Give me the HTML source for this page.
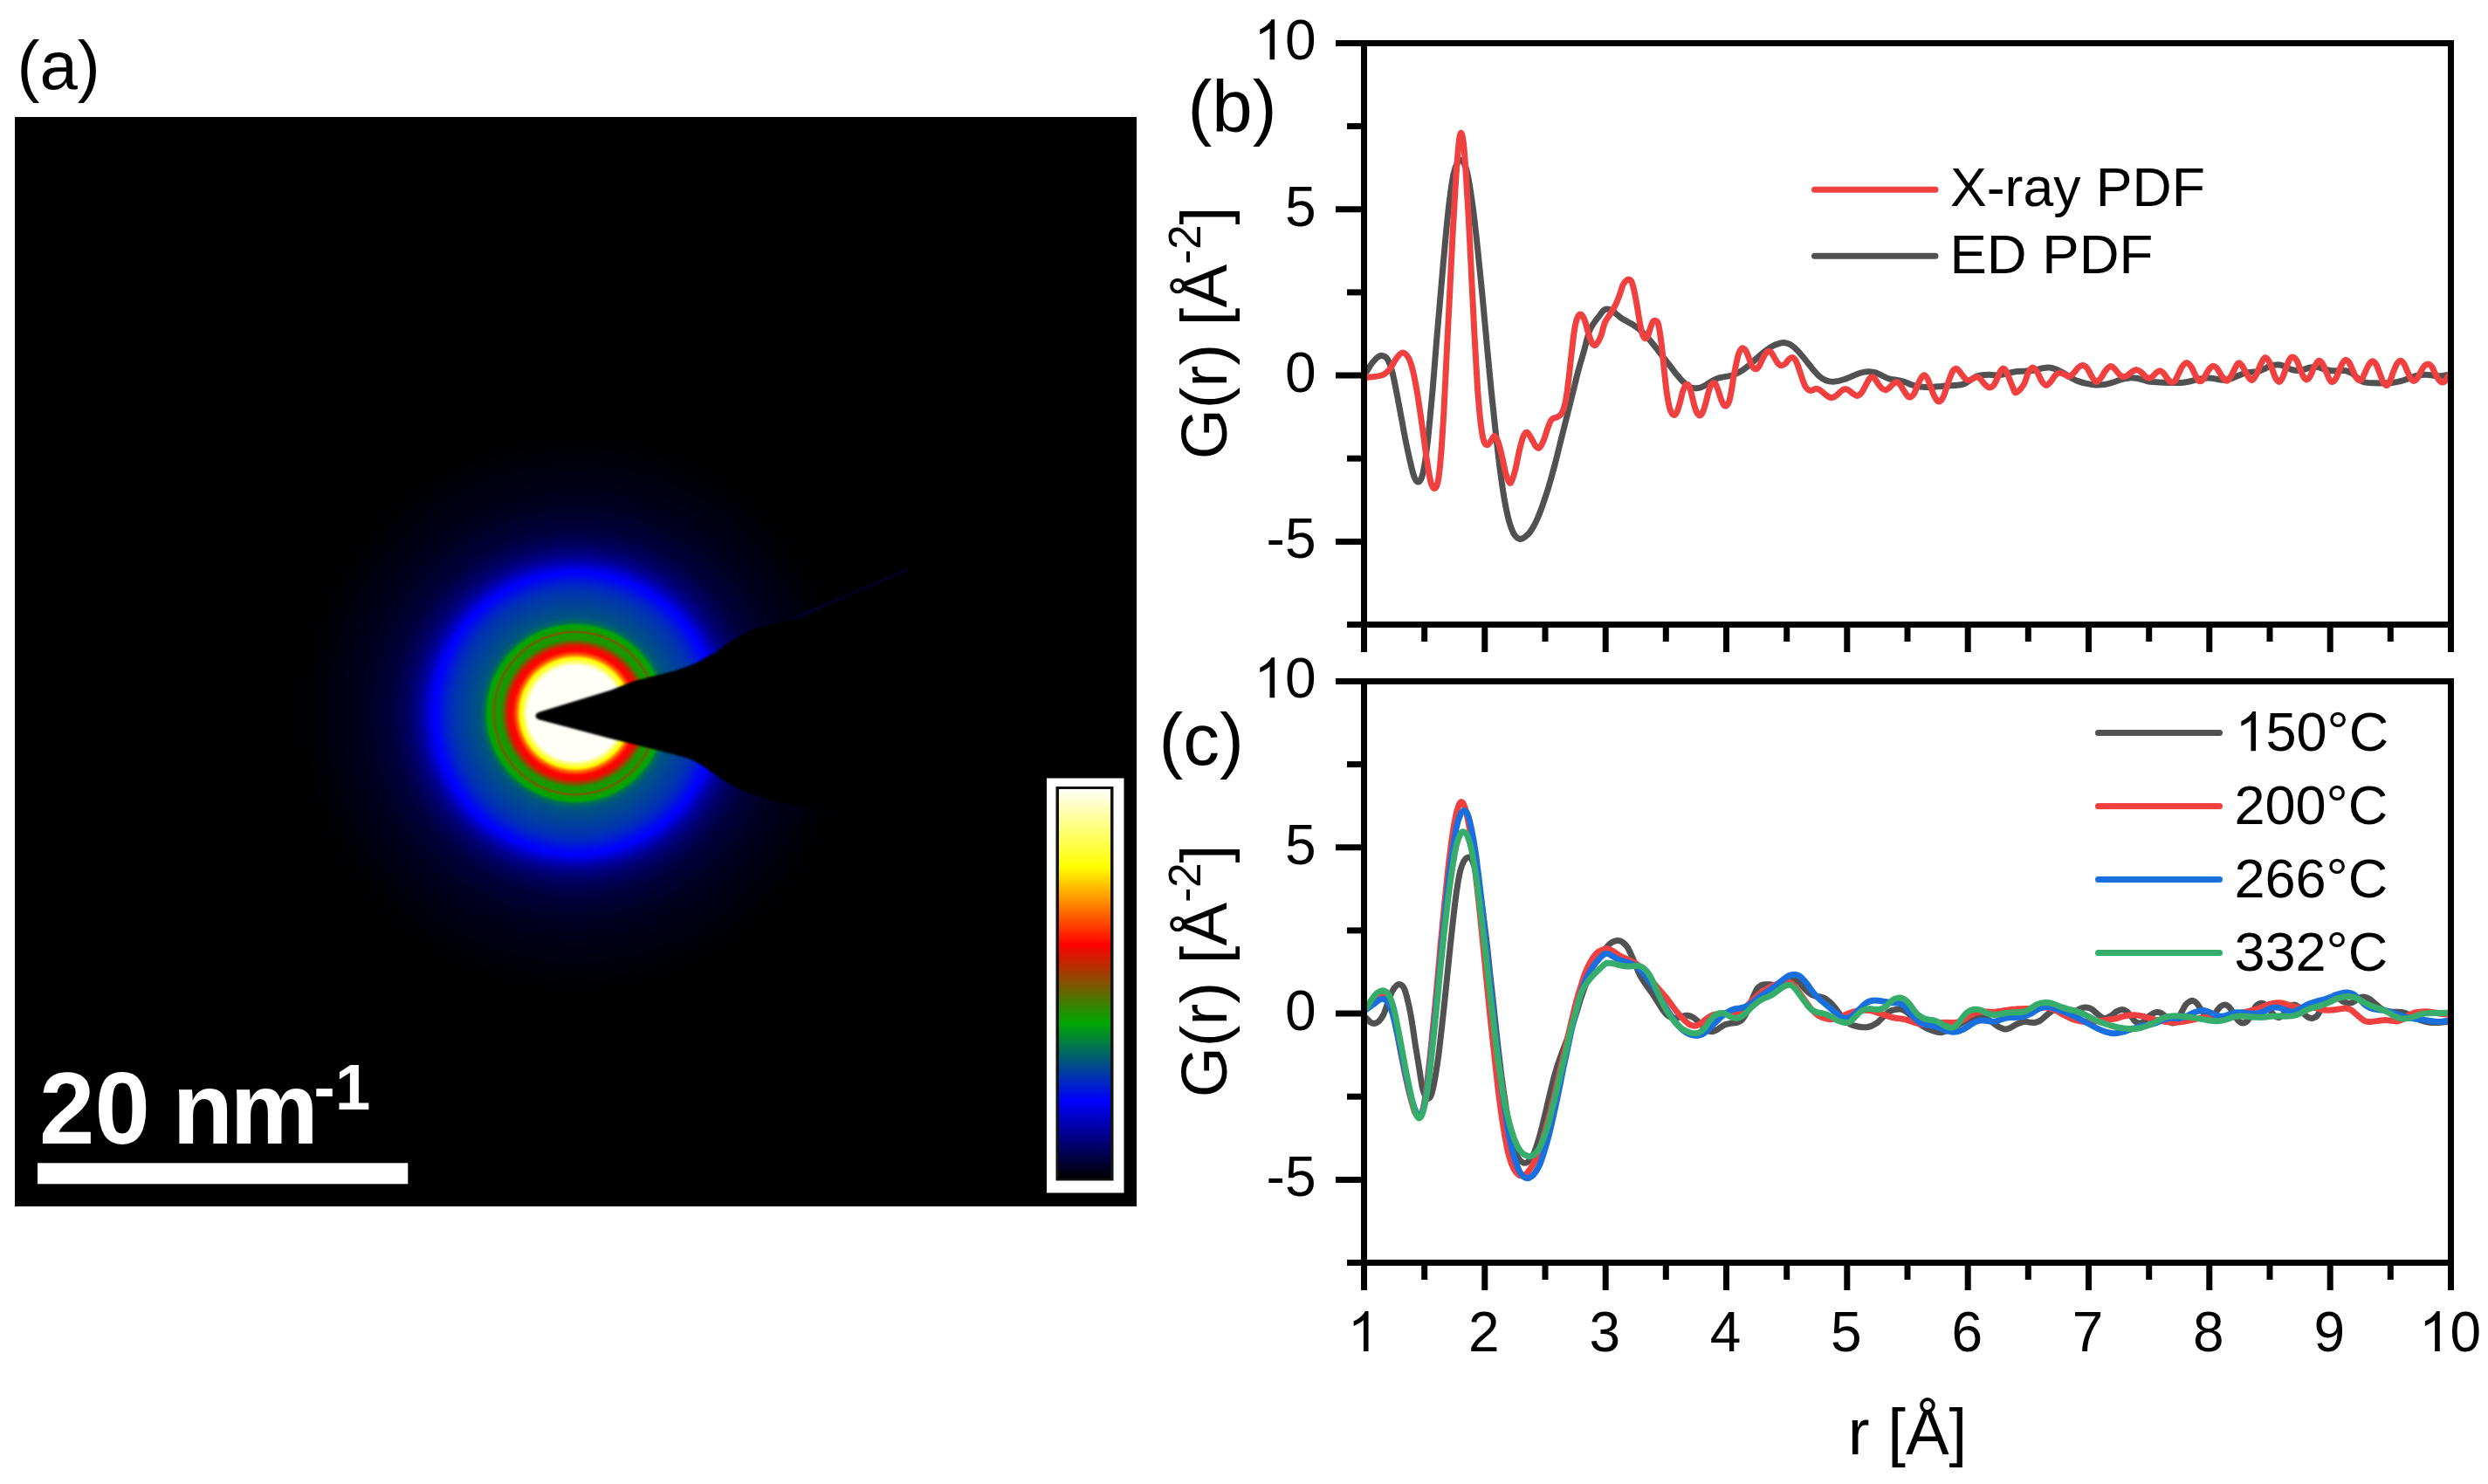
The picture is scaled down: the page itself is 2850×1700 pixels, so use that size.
<!DOCTYPE html>
<html><head><meta charset="utf-8"><title>figure</title>
<style>
html,body{margin:0;padding:0;background:#fff;}
body{width:2850px;height:1700px;overflow:hidden;}
svg{display:block;font-family:"Liberation Sans",sans-serif;}
text{fill:#000;}
</style></head><body>
<svg width="2850" height="1700" viewBox="0 0 2850 1700">
<defs>
<radialGradient id="dp" gradientUnits="userSpaceOnUse" cx="659" cy="817" r="320">
<stop offset="0.0000" stop-color="#fffff8"/>
<stop offset="0.0063" stop-color="#fffff8"/>
<stop offset="0.0125" stop-color="#fffff8"/>
<stop offset="0.0187" stop-color="#fffff8"/>
<stop offset="0.0250" stop-color="#fffff8"/>
<stop offset="0.0312" stop-color="#fffff8"/>
<stop offset="0.0375" stop-color="#fffff8"/>
<stop offset="0.0437" stop-color="#fffff8"/>
<stop offset="0.0500" stop-color="#fffff8"/>
<stop offset="0.0563" stop-color="#fffff8"/>
<stop offset="0.0625" stop-color="#fffff8"/>
<stop offset="0.0688" stop-color="#fffff8"/>
<stop offset="0.0750" stop-color="#fffff8"/>
<stop offset="0.0813" stop-color="#fffff8"/>
<stop offset="0.0875" stop-color="#fffff8"/>
<stop offset="0.0938" stop-color="#fffff8"/>
<stop offset="0.1000" stop-color="#fffff8"/>
<stop offset="0.1062" stop-color="#fffff8"/>
<stop offset="0.1125" stop-color="#fffff8"/>
<stop offset="0.1187" stop-color="#fffff8"/>
<stop offset="0.1250" stop-color="#fffff8"/>
<stop offset="0.1313" stop-color="#fffff8"/>
<stop offset="0.1375" stop-color="#fffff8"/>
<stop offset="0.1437" stop-color="#fffff8"/>
<stop offset="0.1500" stop-color="#fffff8"/>
<stop offset="0.1562" stop-color="#fffff8"/>
<stop offset="0.1625" stop-color="#fffff8"/>
<stop offset="0.1688" stop-color="#fffff8"/>
<stop offset="0.1750" stop-color="#ffffbc"/>
<stop offset="0.1812" stop-color="#ffff81"/>
<stop offset="0.1844" stop-color="#ffff63"/>
<stop offset="0.1875" stop-color="#ffff4a"/>
<stop offset="0.1938" stop-color="#ffff19"/>
<stop offset="0.1969" stop-color="#ffff00"/>
<stop offset="0.2000" stop-color="#ffd900"/>
<stop offset="0.2062" stop-color="#ff8c00"/>
<stop offset="0.2094" stop-color="#ff6600"/>
<stop offset="0.2125" stop-color="#ff5000"/>
<stop offset="0.2188" stop-color="#ff2300"/>
<stop offset="0.2219" stop-color="#ff0d00"/>
<stop offset="0.2250" stop-color="#ff0600"/>
<stop offset="0.2313" stop-color="#f90400"/>
<stop offset="0.2375" stop-color="#ec0d00"/>
<stop offset="0.2406" stop-color="#e51100"/>
<stop offset="0.2437" stop-color="#cc2200"/>
<stop offset="0.2500" stop-color="#994300"/>
<stop offset="0.2531" stop-color="#805400"/>
<stop offset="0.2562" stop-color="#666500"/>
<stop offset="0.2625" stop-color="#338600"/>
<stop offset="0.2656" stop-color="#199700"/>
<stop offset="0.2687" stop-color="#199700"/>
<stop offset="0.2750" stop-color="#199700"/>
<stop offset="0.2812" stop-color="#199700"/>
<stop offset="0.2844" stop-color="#199700"/>
<stop offset="0.2875" stop-color="#4c7600"/>
<stop offset="0.2906" stop-color="#805400"/>
<stop offset="0.2938" stop-color="#4c7600"/>
<stop offset="0.2969" stop-color="#199700"/>
<stop offset="0.3000" stop-color="#149b00"/>
<stop offset="0.3063" stop-color="#0aa100"/>
<stop offset="0.3125" stop-color="#00a800"/>
<stop offset="0.3187" stop-color="#008b2d"/>
<stop offset="0.3250" stop-color="#006d59"/>
<stop offset="0.3312" stop-color="#006566"/>
<stop offset="0.3375" stop-color="#005c73"/>
<stop offset="0.3438" stop-color="#005480"/>
<stop offset="0.3500" stop-color="#005283"/>
<stop offset="0.3563" stop-color="#005086"/>
<stop offset="0.3625" stop-color="#004d8a"/>
<stop offset="0.3688" stop-color="#004b8d"/>
<stop offset="0.3750" stop-color="#004990"/>
<stop offset="0.3812" stop-color="#004794"/>
<stop offset="0.3875" stop-color="#004497"/>
<stop offset="0.3906" stop-color="#004399"/>
<stop offset="0.3937" stop-color="#00429b"/>
<stop offset="0.4000" stop-color="#00409e"/>
<stop offset="0.4062" stop-color="#003ea1"/>
<stop offset="0.4125" stop-color="#003ba5"/>
<stop offset="0.4188" stop-color="#0039a8"/>
<stop offset="0.4250" stop-color="#0037ac"/>
<stop offset="0.4313" stop-color="#0035af"/>
<stop offset="0.4375" stop-color="#0032b3"/>
<stop offset="0.4437" stop-color="#002eb9"/>
<stop offset="0.4500" stop-color="#002abf"/>
<stop offset="0.4562" stop-color="#0026c6"/>
<stop offset="0.4625" stop-color="#0022cc"/>
<stop offset="0.4688" stop-color="#001dd2"/>
<stop offset="0.4750" stop-color="#0017db"/>
<stop offset="0.4813" stop-color="#0011e5"/>
<stop offset="0.4875" stop-color="#000bee"/>
<stop offset="0.4906" stop-color="#0008f2"/>
<stop offset="0.4938" stop-color="#0007f5"/>
<stop offset="0.5000" stop-color="#0003fa"/>
<stop offset="0.5062" stop-color="#0000ff"/>
<stop offset="0.5125" stop-color="#0000f1"/>
<stop offset="0.5188" stop-color="#0000e2"/>
<stop offset="0.5250" stop-color="#0000d4"/>
<stop offset="0.5312" stop-color="#0000c6"/>
<stop offset="0.5375" stop-color="#0000b9"/>
<stop offset="0.5437" stop-color="#0000ac"/>
<stop offset="0.5500" stop-color="#00009f"/>
<stop offset="0.5563" stop-color="#000093"/>
<stop offset="0.5625" stop-color="#00008b"/>
<stop offset="0.5687" stop-color="#000084"/>
<stop offset="0.5750" stop-color="#00007c"/>
<stop offset="0.5813" stop-color="#000075"/>
<stop offset="0.5875" stop-color="#00006d"/>
<stop offset="0.5938" stop-color="#000066"/>
<stop offset="0.6000" stop-color="#000062"/>
<stop offset="0.6062" stop-color="#00005e"/>
<stop offset="0.6125" stop-color="#000059"/>
<stop offset="0.6188" stop-color="#000055"/>
<stop offset="0.6250" stop-color="#000051"/>
<stop offset="0.6312" stop-color="#00004d"/>
<stop offset="0.6375" stop-color="#000049"/>
<stop offset="0.6438" stop-color="#000044"/>
<stop offset="0.6500" stop-color="#000040"/>
<stop offset="0.6562" stop-color="#00003c"/>
<stop offset="0.6625" stop-color="#00003a"/>
<stop offset="0.6687" stop-color="#000038"/>
<stop offset="0.6750" stop-color="#000037"/>
<stop offset="0.6813" stop-color="#000035"/>
<stop offset="0.6875" stop-color="#000033"/>
<stop offset="0.6937" stop-color="#000031"/>
<stop offset="0.7000" stop-color="#00002f"/>
<stop offset="0.7063" stop-color="#00002e"/>
<stop offset="0.7125" stop-color="#00002c"/>
<stop offset="0.7188" stop-color="#00002a"/>
<stop offset="0.7250" stop-color="#000028"/>
<stop offset="0.7312" stop-color="#000027"/>
<stop offset="0.7375" stop-color="#000025"/>
<stop offset="0.7438" stop-color="#000023"/>
<stop offset="0.7500" stop-color="#000021"/>
<stop offset="0.7562" stop-color="#000020"/>
<stop offset="0.7625" stop-color="#00001f"/>
<stop offset="0.7688" stop-color="#00001e"/>
<stop offset="0.7750" stop-color="#00001e"/>
<stop offset="0.7812" stop-color="#00001d"/>
<stop offset="0.7875" stop-color="#00001c"/>
<stop offset="0.7937" stop-color="#00001b"/>
<stop offset="0.8000" stop-color="#00001a"/>
<stop offset="0.8063" stop-color="#000019"/>
<stop offset="0.8125" stop-color="#000018"/>
<stop offset="0.8187" stop-color="#000017"/>
<stop offset="0.8250" stop-color="#000016"/>
<stop offset="0.8313" stop-color="#000016"/>
<stop offset="0.8375" stop-color="#000015"/>
<stop offset="0.8438" stop-color="#000014"/>
<stop offset="0.8500" stop-color="#000013"/>
<stop offset="0.8562" stop-color="#000012"/>
<stop offset="0.8625" stop-color="#000011"/>
<stop offset="0.8688" stop-color="#000010"/>
<stop offset="0.8750" stop-color="#00000f"/>
<stop offset="0.8812" stop-color="#00000f"/>
<stop offset="0.8875" stop-color="#00000e"/>
<stop offset="0.8938" stop-color="#00000d"/>
<stop offset="0.9000" stop-color="#00000c"/>
<stop offset="0.9062" stop-color="#00000b"/>
<stop offset="0.9125" stop-color="#00000b"/>
<stop offset="0.9187" stop-color="#00000a"/>
<stop offset="0.9250" stop-color="#000009"/>
<stop offset="0.9313" stop-color="#000008"/>
<stop offset="0.9375" stop-color="#000008"/>
<stop offset="0.9437" stop-color="#000007"/>
<stop offset="0.9500" stop-color="#000006"/>
<stop offset="0.9563" stop-color="#000005"/>
<stop offset="0.9625" stop-color="#000005"/>
<stop offset="0.9688" stop-color="#000004"/>
<stop offset="0.9750" stop-color="#000003"/>
<stop offset="0.9812" stop-color="#000002"/>
<stop offset="0.9875" stop-color="#000002"/>
<stop offset="0.9938" stop-color="#000001"/>
<stop offset="1.0000" stop-color="#000000"/>
</radialGradient>
<linearGradient id="cbar" x1="0" y1="0" x2="0" y2="1">
<stop offset="0" stop-color="#fffff8"/>
<stop offset="0.2" stop-color="#ffff00"/>
<stop offset="0.4" stop-color="#ff0000"/>
<stop offset="0.6" stop-color="#00a800"/>
<stop offset="0.8" stop-color="#0000ff"/>
<stop offset="1" stop-color="#000000"/>
</linearGradient>
<clipPath id="clipA"><rect x="17" y="134" width="1285" height="1248"/></clipPath>
<clipPath id="clipB"><rect x="1562.5" y="49.5" width="1245" height="666"/></clipPath>
<clipPath id="clipC"><rect x="1562.5" y="780.5" width="1245" height="666"/></clipPath>
<filter id="soft" x="-5%" y="-5%" width="110%" height="110%"><feGaussianBlur stdDeviation="1.2"/></filter>
</defs>

<text x="19.5" y="102" font-size="78">(a)</text>
<rect x="17" y="134" width="1285" height="1248" fill="#000"/>
<g clip-path="url(#clipA)">
<circle cx="659" cy="817" r="320" fill="url(#dp)"/>
<line x1="906" y1="710" x2="1040" y2="652" stroke="#000040" stroke-width="3" opacity="0.6"/>
<path filter="url(#soft)" d="M613.5 820 Q613.5 816.5 620 815 L700.0 790.4 L724.3 780.7 L748.5 774.6 L772.8 768.6 L797.0 760.0 L809.2 752.8 L821.3 746.7 L833.4 737.0 L845.5 729.8 L857.7 723.7 L869.8 718.8 L881.9 715.7 L894.0 712.8 L906.2 710.3 L1000.0 690.0 L1302.0 560.0 L1302.0 1010.0 L1000.0 935.0 L918.3 923.8 L894.0 919.0 L879.5 915.3 L865.0 910.5 L850.4 905.6 L838.3 899.6 L826.1 892.3 L814.0 883.8 L801.9 875.3 L789.8 869.2 L772.8 864.4 L748.5 858.3 L724.3 852.2 L700.0 846.2 L620 825 Q613.5 823.5 613.5 820Z" fill="#000"/>
</g>
<rect x="1199" y="891.5" width="88.5" height="475" fill="#fff"/>
<rect x="1209.5" y="901" width="66" height="451.5" fill="#111"/>
<rect x="1213" y="904" width="59" height="446" fill="url(#cbar)"/>
<rect x="43" y="1332.3" width="424.3" height="24" fill="#fff"/>
<text transform="translate(45 1310) scale(1 1.025)" font-size="114" font-weight="bold" style="fill:#fff" word-spacing="-6">20 <tspan letter-spacing="-3.5">nm</tspan><tspan font-size="72.5" dy="-38.5" dx="-2" letter-spacing="0.5">-1</tspan></text>
<text x="1360.5" y="150.5" font-size="83.5">(b)</text>
<g clip-path="url(#clipB)" fill="none" stroke-linejoin="round" stroke-linecap="round" stroke-width="7">
<path d="M1565.5 425.5C1566.6 423.8 1570.0 418.1 1572.3 415.2C1574.6 412.4 1577.2 409.6 1579.2 408.4C1581.2 407.1 1582.6 407.1 1584.4 407.7C1586.1 408.2 1587.8 408.8 1589.5 411.8C1591.2 414.8 1593.0 419.2 1594.7 425.5C1596.4 431.8 1598.1 441.0 1599.8 449.6C1601.5 458.2 1603.3 467.9 1605.0 477.1C1606.7 486.2 1608.4 496.0 1610.1 504.6C1611.9 513.2 1613.7 521.8 1615.3 528.6C1616.9 535.5 1618.3 541.9 1619.8 545.8C1621.2 549.7 1622.5 551.7 1623.9 552.0C1625.3 552.3 1626.9 551.4 1628.4 547.5C1629.8 543.6 1631.1 537.5 1632.5 528.6C1633.8 519.7 1635.2 508.0 1636.6 494.3C1638.0 480.5 1639.6 463.3 1641.1 446.2C1642.6 429.0 1644.1 408.4 1645.5 391.2C1647.0 374.0 1648.1 360.8 1649.7 343.1C1651.2 325.3 1653.1 303.0 1654.8 284.6C1656.5 266.3 1658.2 247.4 1660.0 233.1C1661.7 218.8 1663.4 206.7 1665.1 198.7C1666.8 190.7 1668.8 187.6 1670.3 185.0C1671.7 182.4 1672.5 182.7 1673.7 183.3C1675.0 183.8 1676.4 184.7 1677.8 188.4C1679.3 192.1 1680.7 197.0 1682.3 205.6C1683.9 214.2 1685.7 226.8 1687.5 240.0C1689.2 253.1 1690.9 268.6 1692.6 284.6C1694.3 300.7 1696.0 318.4 1697.8 336.2C1699.5 353.9 1701.2 372.8 1702.9 391.2C1704.6 409.5 1706.4 429.0 1708.1 446.2C1709.8 463.3 1711.5 478.8 1713.2 494.3C1714.9 509.7 1716.7 525.8 1718.4 538.9C1720.1 552.1 1721.8 563.6 1723.5 573.3C1725.3 583.0 1727.0 591.1 1728.7 597.4C1730.4 603.7 1732.2 607.9 1733.8 611.1C1735.5 614.2 1736.9 615.2 1738.3 616.3C1739.7 617.3 1740.9 617.6 1742.4 617.3C1744.0 617.0 1745.9 615.9 1747.6 614.5C1749.3 613.2 1750.7 612.2 1752.7 609.4C1754.8 606.5 1757.3 602.2 1759.6 597.4C1761.9 592.5 1764.2 586.5 1766.5 580.2C1768.8 573.9 1771.1 567.0 1773.4 559.6C1775.7 552.1 1777.9 544.1 1780.2 535.5C1782.5 526.9 1784.8 517.2 1787.1 508.0C1789.4 498.8 1791.7 489.7 1794.0 480.5C1796.3 471.4 1798.6 462.2 1800.9 453.0C1803.2 443.9 1805.4 434.1 1807.7 425.5C1810.0 416.9 1812.3 409.5 1814.6 401.5C1816.9 393.5 1818.4 384.3 1821.5 377.4C1824.5 370.6 1830.4 364.1 1833.0 360.4C1835.6 356.7 1835.7 356.4 1837.0 355.4C1838.4 354.3 1839.5 354.0 1841.1 354.0C1842.6 354.0 1844.4 354.5 1846.1 355.4C1847.8 356.3 1849.3 357.9 1851.1 359.4C1852.9 360.9 1855.0 362.9 1857.1 364.4C1859.3 365.9 1861.8 367.1 1864.2 368.4C1866.5 369.8 1868.9 370.9 1871.2 372.4C1873.5 374.0 1875.9 375.5 1878.2 377.5C1880.6 379.5 1882.9 382.0 1885.3 384.5C1887.6 387.0 1890.0 389.7 1892.3 392.5C1894.6 395.4 1897.0 398.6 1899.3 401.6C1901.7 404.6 1904.0 407.6 1906.4 410.6C1908.7 413.6 1911.1 416.7 1913.4 419.7C1915.7 422.7 1918.1 425.9 1920.4 428.7C1922.8 431.6 1925.3 434.6 1927.5 436.8C1929.6 438.9 1931.7 440.5 1933.5 441.8C1935.3 443.0 1936.8 443.9 1938.5 444.4C1940.2 444.9 1941.9 444.9 1943.5 444.8C1945.2 444.7 1946.7 444.5 1948.6 443.8C1950.4 443.1 1952.6 441.9 1954.6 440.8C1956.6 439.6 1958.6 437.9 1960.6 436.8C1962.6 435.6 1964.6 434.5 1966.7 433.7C1968.7 433.0 1970.7 432.6 1972.7 432.1C1974.7 431.7 1976.7 431.5 1978.7 431.1C1980.7 430.7 1982.7 430.4 1984.7 429.7C1986.8 429.0 1988.8 428.1 1990.8 427.1C1992.8 426.1 1994.8 425.0 1996.8 423.7C1998.8 422.3 2000.8 420.7 2002.8 419.1C2004.8 417.4 2006.8 415.5 2008.9 413.6C2010.9 411.8 2012.9 410.0 2014.9 408.2C2016.9 406.4 2018.9 404.6 2020.9 403.0C2022.9 401.4 2024.9 399.9 2026.9 398.6C2029.0 397.3 2031.0 396.1 2033.0 395.2C2035.0 394.2 2037.3 393.6 2039.0 393.1C2040.7 392.7 2041.5 392.5 2043.0 392.5C2044.5 392.6 2046.4 392.9 2048.0 393.5C2049.7 394.1 2051.2 394.8 2053.1 396.2C2054.9 397.5 2057.1 399.5 2059.1 401.6C2061.1 403.7 2063.1 406.2 2065.1 408.6C2067.1 411.1 2069.1 413.7 2071.2 416.3C2073.2 418.8 2075.2 421.3 2077.2 423.7C2079.2 426.0 2081.2 428.5 2083.2 430.3C2085.2 432.2 2087.2 433.7 2089.2 434.7C2091.3 435.8 2093.4 436.4 2095.3 436.8C2097.1 437.2 2098.5 437.2 2100.3 437.2C2102.1 437.1 2104.1 436.8 2106.3 436.4C2108.5 435.9 2110.8 435.2 2113.4 434.3C2115.9 433.5 2118.7 432.2 2121.4 431.1C2124.1 430.0 2127.1 428.5 2129.4 427.7C2131.8 426.9 2133.5 426.4 2135.5 426.1C2137.5 425.8 2139.5 425.6 2141.5 425.7C2143.5 425.8 2145.5 426.1 2147.5 426.7C2149.5 427.3 2151.5 428.2 2153.6 429.1C2155.6 430.0 2157.6 431.3 2159.6 432.1C2161.6 433.0 2163.6 433.8 2165.6 434.3C2167.6 434.8 2169.6 434.8 2171.6 435.1C2173.6 435.5 2175.7 435.8 2177.7 436.4C2179.7 436.9 2181.7 437.4 2183.7 438.2C2185.7 438.9 2187.7 440.1 2189.7 440.8C2191.7 441.5 2193.7 442.0 2195.8 442.4C2197.8 442.8 2199.8 443.0 2201.8 443.2C2203.8 443.4 2205.5 443.6 2207.8 443.6C2210.2 443.6 2213.2 443.4 2215.9 443.2C2218.5 443.0 2221.2 442.6 2223.9 442.4C2226.6 442.1 2229.2 441.9 2231.9 441.8C2234.6 441.6 2237.6 441.5 2240.0 441.4C2242.3 441.2 2244.0 441.2 2246.0 440.8C2248.0 440.3 2250.0 439.8 2252.0 438.8C2254.0 437.8 2256.0 436.0 2258.1 434.7C2260.1 433.5 2262.1 432.0 2264.1 431.1C2266.1 430.3 2267.8 430.0 2270.1 429.7C2272.5 429.4 2275.5 429.3 2278.2 429.3C2280.8 429.3 2283.5 429.8 2286.2 429.7C2288.9 429.7 2291.5 429.6 2294.2 429.1C2296.9 428.7 2299.6 427.7 2302.3 427.1C2304.9 426.5 2307.3 425.8 2310.3 425.5C2313.3 425.2 2316.9 425.3 2320.3 425.1C2323.6 424.8 2327.4 424.6 2330.5 424.1C2333.6 423.5 2336.0 422.5 2338.7 422.0C2341.4 421.5 2344.2 420.8 2346.9 421.0C2349.6 421.1 2352.4 422.0 2355.1 423.0C2357.8 424.1 2360.6 425.6 2363.3 427.1C2366.0 428.7 2368.8 430.7 2371.5 432.3C2374.2 433.8 2376.6 435.2 2379.7 436.4C2382.8 437.5 2386.5 438.7 2390.0 439.4C2393.4 440.2 2396.8 440.7 2400.2 440.9C2403.6 441.0 2407.0 440.9 2410.5 440.5C2413.9 440.0 2417.3 439.0 2420.7 438.0C2424.1 437.0 2427.9 435.2 2431.0 434.3C2434.0 433.4 2436.4 433.0 2439.2 432.9C2441.9 432.7 2444.6 432.9 2447.4 433.3C2450.1 433.7 2452.8 434.6 2455.6 435.3C2458.3 436.0 2460.7 436.9 2463.8 437.4C2466.8 437.8 2470.2 437.8 2474.0 438.0C2477.8 438.2 2482.2 438.3 2486.3 438.4C2490.4 438.5 2494.8 438.7 2498.6 438.4C2502.4 438.1 2505.8 437.4 2508.9 436.8C2511.9 436.1 2514.3 435.3 2517.1 434.7C2519.8 434.1 2522.5 433.5 2525.3 433.3C2528.0 433.0 2531.1 433.1 2533.5 433.3C2535.8 433.4 2537.2 434.0 2539.6 434.3C2542.0 434.6 2545.1 435.4 2547.8 435.3C2550.5 435.2 2553.3 434.5 2556.0 433.7C2558.7 432.8 2561.5 431.3 2564.2 430.2C2566.9 429.1 2569.7 427.8 2572.4 427.1C2575.1 426.4 2578.2 426.3 2580.6 426.1C2583.0 425.9 2584.4 426.4 2586.8 425.7C2589.1 425.0 2592.6 423.1 2595.0 422.0C2597.3 420.9 2599.1 419.6 2601.1 418.9C2603.2 418.2 2605.2 418.0 2607.3 417.9C2609.3 417.8 2611.4 417.8 2613.4 418.3C2615.5 418.8 2617.5 420.1 2619.6 421.0C2621.6 421.9 2623.7 423.1 2625.7 423.6C2627.8 424.2 2629.8 424.5 2631.9 424.5C2633.9 424.5 2635.6 424.2 2638.0 423.6C2640.4 423.1 2643.5 421.5 2646.2 421.0C2648.9 420.5 2651.7 420.2 2654.4 420.6C2657.1 420.9 2659.9 422.3 2662.6 423.0C2665.3 423.7 2668.1 424.4 2670.8 424.7C2673.5 424.9 2676.3 424.7 2679.0 424.7C2681.7 424.7 2684.8 424.3 2687.2 424.7C2689.6 425.1 2691.3 425.9 2693.4 427.1C2695.4 428.4 2697.5 430.6 2699.5 432.3C2701.6 433.9 2703.6 435.7 2705.7 436.8C2707.7 437.8 2709.4 438.1 2711.8 438.4C2714.2 438.7 2716.9 438.7 2720.0 438.8C2723.1 438.9 2726.8 438.9 2730.3 438.8C2733.7 438.7 2737.1 438.8 2740.5 438.4C2743.9 438.0 2747.3 437.3 2750.8 436.4C2754.2 435.4 2757.6 433.8 2761.0 432.7C2764.4 431.6 2768.2 430.4 2771.3 429.8C2774.3 429.2 2776.7 429.1 2779.5 429.2C2782.2 429.2 2784.9 429.9 2787.7 430.2C2790.4 430.5 2793.1 431.0 2795.9 430.8C2798.7 430.6 2802.4 429.6 2804.5 429.2C2806.5 428.8 2807.5 428.7 2808.2 428.6" stroke="#515151"/>
<path d="M1565.5 432.4C1568.3 432.0 1578.4 431.4 1582.6 430.0C1586.9 428.6 1588.4 427.1 1591.2 423.8C1594.1 420.5 1597.3 413.4 1599.8 410.1C1602.4 406.7 1604.4 403.9 1606.7 403.9C1609.0 403.9 1611.6 406.5 1613.6 410.1C1615.6 413.7 1617.0 418.4 1618.7 425.5C1620.4 432.7 1622.2 442.7 1623.9 453.0C1625.6 463.3 1627.3 475.4 1629.0 487.4C1630.8 499.4 1632.6 514.6 1634.2 525.2C1635.8 535.8 1637.2 545.2 1638.7 551.0C1640.1 556.7 1641.4 559.3 1642.8 559.6C1644.2 559.8 1645.6 558.4 1646.9 552.7C1648.2 547.0 1649.2 538.4 1650.3 525.2C1651.5 512.0 1652.6 493.7 1653.8 473.6C1654.9 453.6 1656.1 427.8 1657.2 404.9C1658.4 382.0 1659.5 359.1 1660.7 336.2C1661.8 313.3 1662.9 288.6 1664.1 267.5C1665.2 246.3 1666.4 226.2 1667.5 209.0C1668.7 191.9 1669.9 173.8 1671.0 164.4C1672.0 154.9 1672.8 152.3 1673.7 152.3C1674.6 152.3 1675.5 156.6 1676.5 164.4C1677.4 172.1 1678.2 184.4 1679.2 198.7C1680.2 213.0 1681.2 230.2 1682.3 250.3C1683.4 270.3 1684.6 296.1 1685.7 319.0C1686.9 341.9 1688.0 366.5 1689.2 387.7C1690.3 408.9 1691.5 430.1 1692.6 446.2C1693.8 462.2 1694.9 474.2 1696.0 484.0C1697.2 493.7 1698.2 500.3 1699.5 504.6C1700.7 508.9 1702.2 509.7 1703.6 509.7C1705.0 509.7 1706.6 506.3 1708.1 504.6C1709.5 502.9 1710.8 498.8 1712.2 499.4C1713.6 500.0 1715.2 503.7 1716.7 508.0C1718.2 512.3 1719.7 519.2 1721.1 525.2C1722.6 531.2 1723.7 539.4 1725.3 544.1C1726.8 548.8 1728.7 554.2 1730.4 553.4C1732.1 552.5 1733.8 545.3 1735.6 538.9C1737.3 532.5 1739.1 521.5 1740.7 514.9C1742.3 508.3 1743.8 502.7 1745.2 499.4C1746.6 496.2 1747.8 494.7 1749.3 495.3C1750.9 495.9 1752.9 500.3 1754.5 502.9C1756.1 505.4 1757.5 509.0 1758.9 510.8C1760.4 512.5 1761.5 514.2 1763.1 513.2C1764.6 512.1 1766.5 508.6 1768.2 504.6C1769.9 500.6 1771.8 493.1 1773.4 489.1C1774.9 485.1 1775.8 482.4 1777.5 480.5C1779.2 478.6 1781.8 478.9 1783.7 477.8C1785.6 476.6 1787.2 476.6 1788.8 473.6C1790.4 470.7 1792.0 466.2 1793.3 459.9C1794.6 453.6 1795.6 445.0 1796.7 435.8C1797.9 426.7 1799.0 414.7 1800.2 404.9C1801.3 395.2 1802.5 384.3 1803.6 377.4C1804.8 370.5 1805.8 366.5 1807.0 363.7C1808.3 360.8 1809.8 359.7 1811.2 360.2C1812.5 360.8 1813.9 363.4 1815.3 367.1C1816.7 370.8 1818.3 378.1 1819.8 382.6C1821.2 387.0 1822.8 391.9 1824.2 393.9C1825.7 395.9 1826.7 396.2 1828.4 394.6C1830.0 393.0 1832.4 388.5 1834.0 384.5C1835.6 380.5 1836.4 374.5 1838.0 370.4C1839.7 366.4 1842.1 363.7 1844.1 360.4C1846.1 357.0 1848.3 354.0 1850.1 350.3C1851.9 346.7 1853.6 342.3 1855.1 338.3C1856.6 334.3 1857.8 329.1 1859.1 326.2C1860.5 323.4 1862.0 322.2 1863.2 321.2C1864.3 320.2 1865.2 319.9 1866.2 320.2C1867.2 320.5 1868.2 320.9 1869.2 323.2C1870.2 325.6 1871.2 329.7 1872.2 334.3C1873.2 338.8 1874.2 344.6 1875.2 350.3C1876.2 356.0 1877.2 363.1 1878.2 368.4C1879.2 373.8 1880.2 379.3 1881.2 382.5C1882.3 385.7 1883.3 387.0 1884.3 387.5C1885.3 388.0 1886.3 387.3 1887.3 385.5C1888.3 383.7 1889.3 379.3 1890.3 376.5C1891.3 373.6 1892.3 369.9 1893.3 368.4C1894.3 366.9 1895.3 367.1 1896.3 367.4C1897.3 367.8 1898.4 367.6 1899.3 370.4C1900.3 373.3 1901.1 378.8 1901.9 384.5C1902.8 390.2 1903.6 397.2 1904.4 404.6C1905.2 412.0 1905.9 421.0 1906.8 428.7C1907.6 436.4 1908.4 444.5 1909.4 450.8C1910.3 457.2 1911.4 463.0 1912.4 466.9C1913.4 470.7 1914.4 472.5 1915.4 473.9C1916.4 475.3 1917.4 475.8 1918.4 475.3C1919.4 474.8 1920.4 473.3 1921.4 470.9C1922.4 468.5 1923.4 464.6 1924.5 460.9C1925.5 457.2 1926.5 452.0 1927.5 448.8C1928.5 445.6 1929.6 443.2 1930.5 441.8C1931.4 440.4 1932.1 440.0 1932.9 440.4C1933.7 440.7 1934.6 441.4 1935.5 443.8C1936.4 446.2 1937.5 451.0 1938.5 454.8C1939.5 458.7 1940.5 463.7 1941.5 466.9C1942.5 470.1 1943.5 472.4 1944.5 473.9C1945.6 475.4 1946.6 476.3 1947.6 475.9C1948.6 475.6 1949.6 474.1 1950.6 471.9C1951.6 469.7 1952.6 466.4 1953.6 462.9C1954.6 459.4 1955.6 454.3 1956.6 450.8C1957.6 447.3 1958.6 443.8 1959.6 441.8C1960.6 439.8 1961.6 438.9 1962.6 438.8C1963.6 438.6 1964.6 439.1 1965.7 440.8C1966.7 442.4 1967.7 446.0 1968.7 448.8C1969.7 451.7 1970.7 455.3 1971.7 457.9C1972.7 460.4 1973.7 462.7 1974.7 463.9C1975.7 465.1 1976.7 465.6 1977.7 464.9C1978.7 464.2 1979.8 462.5 1980.7 459.9C1981.6 457.2 1982.3 453.3 1983.1 448.8C1984.0 444.3 1984.8 438.1 1985.7 432.7C1986.7 427.4 1987.8 421.3 1988.8 416.7C1989.8 412.0 1990.8 407.4 1991.8 404.6C1992.8 401.8 1994.0 400.5 1994.8 399.6C1995.6 398.6 1996.0 398.6 1996.8 399.0C1997.6 399.3 1998.8 400.0 1999.8 401.6C2000.8 403.2 2001.8 406.1 2002.8 408.6C2003.8 411.1 2004.8 414.5 2005.8 416.7C2006.8 418.8 2007.9 420.7 2008.9 421.7C2009.9 422.7 2010.9 423.0 2011.9 422.7C2012.9 422.3 2013.9 421.2 2014.9 419.7C2015.9 418.2 2016.9 415.7 2017.9 413.6C2018.9 411.6 2019.9 409.3 2020.9 407.6C2021.9 405.9 2023.0 404.5 2023.9 403.6C2024.9 402.7 2025.6 402.1 2026.5 402.2C2027.4 402.3 2028.3 402.8 2029.4 404.2C2030.4 405.6 2031.7 408.6 2033.0 410.6C2034.2 412.7 2035.7 415.3 2037.0 416.7C2038.3 418.0 2039.7 418.7 2041.0 418.7C2042.4 418.7 2043.7 417.8 2045.0 416.7C2046.4 415.5 2047.7 412.8 2049.1 411.6C2050.4 410.5 2051.9 409.6 2053.1 409.6C2054.2 409.6 2055.1 410.3 2056.1 411.6C2057.1 413.0 2058.1 415.1 2059.1 417.7C2060.1 420.2 2061.1 423.7 2062.1 426.7C2063.1 429.7 2064.1 433.1 2065.1 435.7C2066.1 438.4 2067.1 441.0 2068.1 442.8C2069.1 444.6 2070.0 445.6 2071.2 446.4C2072.3 447.2 2073.7 447.6 2075.2 447.4C2076.7 447.2 2078.7 445.4 2080.2 445.2C2081.7 445.0 2082.7 445.5 2084.2 446.4C2085.7 447.3 2087.6 449.1 2089.2 450.4C2090.9 451.8 2092.6 453.6 2094.3 454.4C2095.9 455.3 2097.6 455.8 2099.3 455.4C2101.0 455.1 2102.6 453.7 2104.3 452.4C2106.0 451.2 2107.8 448.9 2109.3 447.8C2110.8 446.7 2112.0 446.0 2113.4 445.8C2114.7 445.6 2115.9 446.0 2117.4 446.8C2118.9 447.6 2120.7 449.7 2122.4 450.8C2124.1 451.9 2125.8 453.6 2127.4 453.4C2129.1 453.3 2130.8 451.9 2132.5 449.8C2134.1 447.7 2136.0 443.5 2137.5 440.8C2139.0 438.1 2140.3 435.2 2141.5 433.7C2142.7 432.2 2143.5 431.7 2144.5 431.7C2145.5 431.7 2146.4 432.4 2147.5 433.7C2148.7 435.1 2150.2 437.9 2151.5 439.8C2152.9 441.6 2154.2 443.6 2155.6 444.8C2156.9 446.0 2158.2 446.8 2159.6 446.8C2160.9 446.8 2162.1 446.0 2163.6 444.8C2165.1 443.6 2167.1 440.9 2168.6 439.8C2170.1 438.6 2171.3 437.6 2172.6 437.8C2174.0 437.9 2175.2 438.9 2176.7 440.8C2178.2 442.6 2180.2 446.6 2181.7 448.8C2183.2 451.1 2184.5 453.2 2185.7 454.2C2186.9 455.2 2187.5 455.4 2188.7 454.8C2189.9 454.3 2191.4 453.2 2192.7 450.8C2194.1 448.5 2195.4 443.8 2196.8 440.8C2198.1 437.8 2199.5 434.6 2200.8 432.7C2202.0 430.9 2203.1 429.7 2204.2 429.7C2205.3 429.7 2206.3 430.9 2207.4 432.7C2208.5 434.6 2209.6 437.6 2210.8 440.8C2212.1 444.0 2213.5 448.8 2214.8 451.8C2216.2 454.8 2217.7 457.5 2218.9 458.9C2220.0 460.2 2220.9 460.2 2221.9 459.9C2222.9 459.5 2223.7 459.0 2224.9 456.8C2226.1 454.7 2227.6 450.5 2228.9 446.8C2230.3 443.1 2231.6 438.4 2232.9 434.7C2234.3 431.1 2235.8 426.8 2237.0 424.7C2238.1 422.6 2239.0 422.5 2240.0 422.3C2241.0 422.1 2241.8 422.6 2243.0 423.7C2244.2 424.8 2245.7 427.0 2247.0 428.7C2248.3 430.4 2249.7 432.6 2251.0 433.7C2252.4 434.9 2253.5 435.7 2255.0 435.7C2256.5 435.7 2258.6 434.4 2260.1 433.7C2261.6 433.1 2262.7 431.7 2264.1 431.7C2265.4 431.7 2266.6 432.4 2268.1 433.7C2269.6 435.1 2271.6 438.2 2273.1 439.8C2274.6 441.3 2276.0 442.5 2277.1 443.2C2278.3 443.9 2279.0 444.2 2280.2 443.8C2281.3 443.4 2282.8 442.6 2284.2 440.8C2285.5 438.9 2286.9 435.4 2288.2 432.7C2289.5 430.1 2290.7 426.4 2291.8 424.7C2292.9 423.0 2293.6 422.3 2294.6 422.3C2295.6 422.3 2296.7 423.0 2297.8 424.7C2299.0 426.4 2300.0 429.7 2301.3 432.7C2302.5 435.7 2303.9 439.9 2305.3 442.8C2306.6 445.6 2307.1 450.2 2309.3 449.8C2311.5 449.4 2315.9 444.2 2318.2 440.5C2320.5 436.7 2321.6 430.4 2323.3 427.1C2325.0 423.9 2326.7 421.1 2328.5 421.0C2330.2 420.8 2331.9 423.5 2333.6 426.1C2335.3 428.7 2337.0 433.8 2338.7 436.4C2340.4 438.9 2342.1 441.3 2343.8 441.5C2345.5 441.6 2347.2 439.3 2349.0 437.4C2350.7 435.5 2352.4 431.9 2354.1 430.2C2355.8 428.5 2357.3 427.3 2359.2 427.1C2361.1 427.0 2363.5 428.5 2365.4 429.2C2367.2 429.9 2368.8 431.6 2370.5 431.2C2372.2 430.9 2373.9 428.8 2375.6 427.1C2377.3 425.4 2379.0 422.4 2380.7 421.0C2382.4 419.5 2384.1 418.3 2385.9 418.5C2387.6 418.7 2389.3 419.9 2391.0 422.0C2392.7 424.1 2394.4 428.7 2396.1 431.2C2397.8 433.8 2399.5 437.0 2401.2 437.4C2402.9 437.7 2404.6 435.3 2406.4 433.3C2408.1 431.2 2409.6 427.4 2411.5 425.1C2413.4 422.8 2415.7 419.9 2417.6 419.5C2419.5 419.2 2421.0 421.4 2422.8 423.0C2424.5 424.6 2426.2 427.7 2427.9 429.2C2429.6 430.6 2431.3 431.8 2433.0 431.8C2434.7 431.8 2436.4 430.3 2438.1 429.2C2439.8 428.0 2441.7 426.0 2443.3 425.1C2444.8 424.2 2445.8 423.5 2447.4 423.6C2448.9 423.8 2450.8 424.8 2452.5 426.1C2454.2 427.4 2456.1 430.0 2457.6 431.2C2459.1 432.4 2460.3 433.3 2461.7 433.3C2463.1 433.3 2464.4 432.3 2465.8 431.2C2467.2 430.2 2468.5 428.2 2469.9 427.1C2471.3 426.0 2472.6 424.7 2474.0 424.7C2475.4 424.7 2476.6 425.5 2478.1 427.1C2479.6 428.7 2481.7 432.5 2483.2 434.3C2484.8 436.1 2486.0 437.6 2487.3 438.0C2488.7 438.3 2490.1 438.0 2491.4 436.4C2492.8 434.7 2494.2 430.9 2495.5 428.2C2496.9 425.4 2498.1 422.1 2499.6 420.0C2501.2 417.8 2503.0 415.4 2504.8 415.4C2506.5 415.4 2508.2 417.5 2509.9 420.0C2511.6 422.4 2513.5 427.5 2515.0 430.2C2516.5 432.9 2517.7 435.5 2519.1 436.4C2520.5 437.2 2521.8 436.7 2523.2 435.3C2524.6 434.0 2525.9 430.4 2527.3 428.2C2528.7 425.9 2530.0 423.5 2531.4 422.0C2532.8 420.5 2534.1 419.3 2535.5 419.3C2536.9 419.3 2538.1 420.2 2539.6 422.0C2541.1 423.8 2543.2 428.0 2544.7 430.2C2546.3 432.4 2547.6 434.4 2548.8 435.3C2550.0 436.3 2550.7 436.8 2551.9 435.9C2553.1 435.1 2554.6 432.5 2556.0 430.2C2557.4 427.9 2558.7 424.4 2560.1 422.0C2561.5 419.6 2562.8 416.4 2564.2 415.9C2565.6 415.3 2566.8 416.9 2568.3 418.9C2569.8 421.0 2571.9 425.6 2573.4 428.2C2575.0 430.7 2576.3 433.2 2577.5 434.3C2578.7 435.4 2579.4 435.8 2580.6 434.9C2581.8 434.1 2583.3 431.8 2584.7 429.2C2586.1 426.5 2587.4 421.9 2588.8 418.9C2590.2 416.0 2591.8 412.9 2592.9 411.3C2594.0 409.8 2594.5 409.3 2595.6 409.7C2596.6 410.1 2597.8 411.4 2599.1 413.8C2600.3 416.2 2601.8 420.6 2603.2 424.1C2604.5 427.5 2606.0 432.1 2607.3 434.3C2608.6 436.5 2609.7 437.5 2610.9 437.4C2612.1 437.2 2613.2 435.8 2614.4 433.3C2615.7 430.7 2617.2 425.6 2618.5 422.0C2619.9 418.4 2621.3 413.9 2622.6 411.8C2624.0 409.6 2625.4 408.9 2626.7 409.1C2628.1 409.3 2629.5 410.5 2630.8 412.8C2632.2 415.1 2633.6 419.8 2634.9 423.0C2636.3 426.3 2637.8 430.3 2639.0 432.3C2640.3 434.2 2641.3 435.1 2642.5 434.9C2643.7 434.7 2644.9 433.4 2646.2 431.2C2647.5 429.1 2648.9 424.7 2650.3 422.0C2651.7 419.3 2653.3 416.3 2654.4 414.8C2655.5 413.4 2655.8 412.8 2656.9 413.2C2657.9 413.5 2659.3 414.7 2660.6 416.9C2661.9 419.0 2663.3 423.0 2664.7 426.1C2666.0 429.2 2667.6 433.4 2668.8 435.3C2669.9 437.2 2670.6 437.7 2671.8 437.4C2673.0 437.0 2674.6 435.7 2675.9 433.3C2677.3 430.9 2678.7 426.1 2680.0 423.0C2681.4 420.0 2682.9 416.6 2684.1 414.8C2685.4 413.0 2686.4 412.2 2687.6 412.4C2688.8 412.5 2690.0 413.7 2691.3 415.9C2692.6 418.0 2694.0 422.2 2695.4 425.1C2696.8 428.0 2698.2 431.5 2699.5 433.3C2700.8 435.1 2702.0 436.1 2703.2 435.9C2704.4 435.8 2705.4 434.4 2706.7 432.3C2707.9 430.1 2709.4 425.8 2710.8 423.0C2712.1 420.3 2713.6 417.4 2714.9 415.9C2716.1 414.3 2717.2 413.5 2718.4 413.8C2719.6 414.1 2720.8 415.5 2722.1 417.9C2723.4 420.3 2724.8 424.7 2726.2 428.2C2727.5 431.6 2729.0 436.2 2730.3 438.4C2731.6 440.6 2732.7 441.6 2733.9 441.5C2735.1 441.3 2736.2 439.9 2737.4 437.4C2738.7 434.8 2740.2 429.5 2741.5 426.1C2742.9 422.7 2744.3 419.0 2745.6 416.9C2747.0 414.7 2748.4 413.2 2749.7 413.2C2751.1 413.2 2752.5 414.7 2753.8 416.9C2755.2 419.0 2756.6 423.2 2757.9 426.1C2759.3 429.0 2760.8 432.6 2762.0 434.3C2763.3 436.0 2764.3 436.5 2765.5 436.4C2766.7 436.2 2767.9 435.2 2769.2 433.3C2770.5 431.4 2771.9 427.5 2773.3 425.1C2774.7 422.7 2776.0 420.3 2777.4 418.9C2778.8 417.6 2780.1 416.7 2781.5 416.9C2782.9 417.0 2784.2 418.1 2785.6 420.0C2787.0 421.8 2788.3 425.6 2789.7 428.2C2791.1 430.7 2792.4 433.7 2793.8 435.3C2795.2 437.0 2796.5 438.0 2797.9 438.0C2799.3 438.0 2800.9 436.5 2802.0 435.3C2803.1 434.2 2803.4 432.8 2804.5 431.2C2805.5 429.7 2807.5 427.0 2808.2 426.1" stroke="#F14040"/>
</g>
<rect x="1562.5" y="49.5" width="1245.0" height="666.0" fill="none" stroke="#000" stroke-width="7"/>
<line x1="1530.0" y1="49.5" x2="1562.5" y2="49.5" stroke="#000" stroke-width="7"/>
<path d="M763 0H583V1147Q518 1085 412.5 1023T223 930V1104Q374 1175 487 1276T647 1472H763Z" transform="translate(1436.31 68.30) scale(0.03125 -0.03125)" fill="#000"/>
<text x="1507.5" y="68.3" text-anchor="end" font-size="64">0</text>
<line x1="1530.0" y1="239.8" x2="1562.5" y2="239.8" stroke="#000" stroke-width="7"/>
<text x="1507.5" y="258.6" text-anchor="end" font-size="64">5</text>
<line x1="1530.0" y1="430.1" x2="1562.5" y2="430.1" stroke="#000" stroke-width="7"/>
<text x="1507.5" y="448.9" text-anchor="end" font-size="64">0</text>
<line x1="1530.0" y1="620.4" x2="1562.5" y2="620.4" stroke="#000" stroke-width="7"/>
<text x="1507.5" y="639.2" text-anchor="end" font-size="64">-5</text>
<line x1="1543.0" y1="144.6" x2="1562.5" y2="144.6" stroke="#000" stroke-width="7"/>
<line x1="1543.0" y1="334.9" x2="1562.5" y2="334.9" stroke="#000" stroke-width="7"/>
<line x1="1543.0" y1="525.2" x2="1562.5" y2="525.2" stroke="#000" stroke-width="7"/>
<line x1="1543.0" y1="715.5" x2="1562.5" y2="715.5" stroke="#000" stroke-width="7"/>
<line x1="1562.5" y1="715.5" x2="1562.5" y2="747.0" stroke="#000" stroke-width="7"/>
<line x1="1700.8" y1="715.5" x2="1700.8" y2="747.0" stroke="#000" stroke-width="7"/>
<line x1="1839.2" y1="715.5" x2="1839.2" y2="747.0" stroke="#000" stroke-width="7"/>
<line x1="1977.5" y1="715.5" x2="1977.5" y2="747.0" stroke="#000" stroke-width="7"/>
<line x1="2115.8" y1="715.5" x2="2115.8" y2="747.0" stroke="#000" stroke-width="7"/>
<line x1="2254.2" y1="715.5" x2="2254.2" y2="747.0" stroke="#000" stroke-width="7"/>
<line x1="2392.5" y1="715.5" x2="2392.5" y2="747.0" stroke="#000" stroke-width="7"/>
<line x1="2530.8" y1="715.5" x2="2530.8" y2="747.0" stroke="#000" stroke-width="7"/>
<line x1="2669.2" y1="715.5" x2="2669.2" y2="747.0" stroke="#000" stroke-width="7"/>
<line x1="2807.5" y1="715.5" x2="2807.5" y2="747.0" stroke="#000" stroke-width="7"/>
<line x1="1631.7" y1="715.5" x2="1631.7" y2="735.0" stroke="#000" stroke-width="7"/>
<line x1="1770.0" y1="715.5" x2="1770.0" y2="735.0" stroke="#000" stroke-width="7"/>
<line x1="1908.3" y1="715.5" x2="1908.3" y2="735.0" stroke="#000" stroke-width="7"/>
<line x1="2046.7" y1="715.5" x2="2046.7" y2="735.0" stroke="#000" stroke-width="7"/>
<line x1="2185.0" y1="715.5" x2="2185.0" y2="735.0" stroke="#000" stroke-width="7"/>
<line x1="2323.3" y1="715.5" x2="2323.3" y2="735.0" stroke="#000" stroke-width="7"/>
<line x1="2461.7" y1="715.5" x2="2461.7" y2="735.0" stroke="#000" stroke-width="7"/>
<line x1="2600.0" y1="715.5" x2="2600.0" y2="735.0" stroke="#000" stroke-width="7"/>
<line x1="2738.3" y1="715.5" x2="2738.3" y2="735.0" stroke="#000" stroke-width="7"/>
<text transform="translate(1405 381.5) rotate(-90)" text-anchor="middle" font-size="74.5">G(r) [Å<tspan font-size="51" dy="-30">-2</tspan><tspan dy="30">]</tspan></text>
<line x1="2078.5" y1="217.2" x2="2217" y2="217.2" stroke="#F14040" stroke-width="7" stroke-linecap="round"/>
<line x1="2078.5" y1="293.3" x2="2217" y2="293.3" stroke="#515151" stroke-width="7" stroke-linecap="round"/>
<text x="2234" y="236.3" font-size="63.5" textLength="292" lengthAdjust="spacingAndGlyphs">X-ray PDF</text>
<text x="2233.5" y="313.2" font-size="63.5">ED PDF</text>
<text x="1327.5" y="876" font-size="83.5">(c)</text>
<g clip-path="url(#clipC)" fill="none" stroke-linejoin="round" stroke-linecap="round" stroke-width="7">
<path d="M1565.5 1166.6C1566.2 1167.4 1568.5 1170.1 1569.9 1171.1C1571.4 1172.1 1572.5 1172.6 1574.1 1172.5C1575.6 1172.3 1577.5 1171.6 1579.2 1170.1C1580.9 1168.5 1582.6 1166.6 1584.4 1163.2C1586.1 1159.8 1587.8 1154.0 1589.5 1149.5C1591.2 1144.9 1593.0 1139.1 1594.7 1135.7C1596.4 1132.3 1598.3 1130.1 1599.8 1128.8C1601.4 1127.5 1602.5 1127.2 1604.0 1127.8C1605.4 1128.4 1607.0 1129.2 1608.4 1132.3C1609.9 1135.3 1611.1 1140.0 1612.5 1146.0C1614.0 1152.0 1615.6 1160.0 1617.0 1168.4C1618.4 1176.7 1619.7 1186.7 1621.1 1195.8C1622.6 1205.0 1624.2 1214.7 1625.6 1223.3C1627.0 1231.9 1628.3 1241.7 1629.7 1247.4C1631.2 1253.1 1632.7 1256.3 1634.2 1257.7C1635.7 1259.1 1637.2 1258.8 1638.7 1256.0C1640.1 1253.1 1641.4 1247.7 1642.8 1240.5C1644.2 1233.4 1645.8 1223.3 1647.3 1213.0C1648.7 1202.7 1649.9 1191.3 1651.4 1178.7C1652.8 1166.1 1654.4 1151.2 1655.8 1137.4C1657.3 1123.7 1658.5 1109.9 1660.0 1096.2C1661.4 1082.4 1663.0 1067.5 1664.4 1054.9C1665.9 1042.3 1667.1 1030.3 1668.6 1020.6C1670.0 1010.8 1671.6 1002.3 1673.0 996.5C1674.5 990.8 1675.8 988.6 1677.1 986.2C1678.5 983.8 1679.8 982.4 1681.3 982.1C1682.7 981.8 1684.3 982.1 1685.7 984.5C1687.2 986.9 1688.4 991.1 1689.9 996.5C1691.3 1002.0 1692.9 1009.1 1694.3 1017.1C1695.8 1025.2 1697.0 1034.3 1698.5 1044.6C1699.9 1054.9 1701.5 1067.0 1702.9 1079.0C1704.4 1091.0 1705.6 1103.6 1707.0 1116.8C1708.5 1130.0 1710.1 1144.9 1711.5 1158.0C1712.9 1171.2 1714.2 1183.2 1715.6 1195.8C1717.1 1208.4 1718.6 1222.2 1720.1 1233.6C1721.6 1245.1 1723.1 1255.1 1724.6 1264.6C1726.0 1274.0 1727.1 1282.3 1728.7 1290.3C1730.2 1298.4 1732.1 1306.7 1733.8 1312.7C1735.6 1318.7 1737.3 1323.3 1739.0 1326.4C1740.7 1329.6 1742.4 1330.7 1744.2 1331.6C1745.9 1332.4 1747.6 1332.4 1749.3 1331.6C1751.0 1330.7 1752.7 1329.3 1754.5 1326.4C1756.2 1323.6 1757.9 1319.3 1759.6 1314.4C1761.3 1309.5 1763.1 1303.5 1764.8 1297.2C1766.5 1290.9 1768.2 1283.8 1769.9 1276.6C1771.6 1269.4 1773.4 1261.4 1775.1 1254.3C1776.8 1247.1 1778.5 1239.9 1780.2 1233.6C1782.0 1227.3 1783.7 1221.6 1785.4 1216.5C1787.1 1211.3 1788.8 1207.3 1790.5 1202.7C1792.3 1198.1 1794.0 1193.6 1795.7 1189.0C1797.4 1184.4 1799.1 1180.1 1800.9 1175.2C1802.6 1170.4 1804.3 1165.2 1806.0 1159.8C1807.7 1154.3 1809.2 1148.6 1811.2 1142.6C1813.2 1136.6 1815.8 1129.7 1818.0 1123.7C1820.3 1117.7 1822.9 1110.4 1824.9 1106.5C1826.9 1102.6 1828.5 1102.3 1830.0 1100.3C1831.5 1098.3 1832.5 1096.4 1834.0 1094.3C1835.5 1092.1 1837.4 1089.4 1839.0 1087.2C1840.7 1085.0 1842.4 1082.7 1844.1 1081.2C1845.7 1079.7 1847.4 1078.8 1849.1 1078.2C1850.8 1077.6 1852.4 1077.3 1854.1 1077.6C1855.8 1077.8 1857.5 1078.3 1859.1 1079.6C1860.8 1080.9 1862.5 1082.6 1864.2 1085.2C1865.8 1087.8 1867.5 1091.6 1869.2 1095.3C1870.9 1098.9 1872.5 1103.5 1874.2 1107.3C1875.9 1111.2 1877.6 1115.2 1879.2 1118.4C1880.9 1121.6 1882.6 1123.9 1884.3 1126.4C1885.9 1128.9 1887.6 1131.1 1889.3 1133.4C1891.0 1135.8 1892.6 1138.0 1894.3 1140.5C1896.0 1143.0 1897.7 1145.8 1899.3 1148.5C1901.0 1151.2 1902.7 1154.2 1904.4 1156.6C1906.0 1158.9 1907.7 1161.1 1909.4 1162.6C1911.1 1164.1 1912.7 1165.0 1914.4 1165.6C1916.1 1166.2 1917.8 1166.3 1919.4 1166.2C1921.1 1166.1 1922.8 1165.4 1924.5 1165.0C1926.1 1164.6 1928.0 1163.9 1929.5 1163.6C1931.0 1163.3 1932.0 1163.0 1933.5 1163.2C1935.0 1163.4 1936.8 1164.1 1938.5 1165.0C1940.2 1165.9 1941.9 1167.2 1943.5 1168.6C1945.2 1170.1 1946.9 1172.0 1948.6 1173.6C1950.2 1175.3 1952.1 1177.4 1953.6 1178.7C1955.1 1179.9 1956.3 1180.8 1957.6 1181.3C1959.0 1181.8 1960.1 1181.9 1961.6 1181.7C1963.1 1181.4 1965.0 1180.6 1966.7 1179.7C1968.3 1178.8 1970.0 1177.3 1971.7 1176.3C1973.4 1175.2 1974.9 1174.3 1976.7 1173.6C1978.5 1173.0 1980.7 1172.6 1982.7 1172.2C1984.7 1171.9 1986.9 1172.1 1988.8 1171.6C1990.6 1171.2 1992.1 1171.0 1993.8 1169.6C1995.5 1168.3 1997.1 1166.4 1998.8 1163.6C2000.5 1160.7 2002.2 1156.4 2003.8 1152.5C2005.5 1148.7 2007.4 1143.8 2008.9 1140.5C2010.4 1137.1 2011.5 1134.4 2012.9 1132.4C2014.2 1130.5 2015.4 1129.8 2016.9 1129.0C2018.4 1128.3 2020.1 1128.0 2021.9 1127.8C2023.8 1127.6 2025.9 1127.7 2028.0 1127.8C2030.0 1127.9 2032.0 1128.5 2034.0 1128.4C2036.0 1128.4 2038.0 1128.1 2040.0 1127.4C2042.0 1126.7 2044.2 1125.2 2046.0 1124.4C2047.9 1123.6 2049.4 1122.7 2051.1 1122.4C2052.7 1122.1 2054.4 1121.9 2056.1 1122.4C2057.8 1122.9 2059.4 1123.9 2061.1 1125.4C2062.8 1126.9 2064.5 1129.6 2066.1 1131.4C2067.8 1133.3 2069.5 1135.1 2071.2 1136.5C2072.8 1137.9 2074.5 1139.0 2076.2 1139.9C2077.9 1140.7 2079.5 1141.1 2081.2 1141.5C2082.9 1141.9 2084.6 1141.7 2086.2 1142.1C2087.9 1142.5 2089.6 1143.1 2091.3 1144.1C2092.9 1145.1 2094.6 1146.5 2096.3 1148.1C2098.0 1149.7 2099.6 1151.5 2101.3 1153.5C2103.0 1155.6 2104.7 1158.0 2106.3 1160.2C2108.0 1162.4 2109.7 1164.7 2111.4 1166.6C2113.0 1168.5 2114.7 1170.4 2116.4 1171.6C2118.0 1172.9 2119.6 1173.6 2121.4 1174.2C2123.2 1174.9 2125.4 1175.2 2127.4 1175.7C2129.4 1176.1 2131.6 1176.5 2133.5 1176.7C2135.3 1176.8 2136.6 1176.9 2138.5 1176.7C2140.3 1176.4 2142.5 1175.9 2144.5 1175.0C2146.5 1174.2 2148.7 1173.0 2150.5 1171.6C2152.4 1170.2 2153.9 1168.3 2155.6 1166.6C2157.2 1164.9 2158.9 1163.0 2160.6 1161.6C2162.3 1160.2 2163.9 1159.0 2165.6 1158.2C2167.3 1157.3 2169.0 1156.9 2170.6 1156.6C2172.3 1156.2 2174.0 1155.9 2175.7 1156.0C2177.3 1156.1 2179.0 1156.4 2180.7 1157.2C2182.4 1157.9 2184.0 1159.2 2185.7 1160.6C2187.4 1162.0 2189.1 1163.9 2190.7 1165.6C2192.4 1167.3 2193.9 1169.1 2195.8 1170.6C2197.6 1172.2 2199.8 1173.8 2201.8 1175.0C2203.8 1176.3 2205.8 1177.3 2207.8 1178.3C2209.8 1179.2 2212.0 1180.0 2213.8 1180.7C2215.7 1181.3 2217.2 1181.9 2218.9 1182.3C2220.5 1182.6 2222.0 1183.0 2223.9 1182.7C2225.7 1182.4 2227.9 1181.5 2229.9 1180.7C2231.9 1179.8 2233.9 1178.7 2235.9 1177.7C2238.0 1176.7 2240.0 1175.7 2242.0 1174.6C2244.0 1173.6 2246.0 1172.6 2248.0 1171.6C2250.0 1170.6 2252.0 1169.6 2254.0 1168.6C2256.0 1167.6 2258.1 1166.3 2260.1 1165.6C2262.1 1164.9 2264.1 1164.6 2266.1 1164.6C2268.1 1164.6 2270.1 1164.9 2272.1 1165.6C2274.1 1166.3 2276.1 1167.4 2278.2 1168.6C2280.2 1169.8 2282.2 1171.3 2284.2 1172.6C2286.2 1174.0 2288.4 1175.7 2290.2 1176.7C2292.1 1177.7 2293.7 1178.3 2295.2 1178.7C2296.7 1179.0 2297.7 1179.0 2299.3 1178.7C2300.8 1178.3 2302.6 1177.5 2304.3 1176.7C2306.0 1175.8 2307.0 1174.7 2309.3 1173.6C2311.6 1172.6 2315.7 1170.9 2318.2 1170.5C2320.7 1170.0 2322.3 1170.7 2324.4 1170.9C2326.4 1171.0 2328.5 1171.7 2330.5 1171.5C2332.6 1171.2 2334.6 1170.6 2336.7 1169.4C2338.7 1168.2 2340.8 1166.0 2342.8 1164.3C2344.9 1162.6 2347.1 1160.4 2349.0 1159.2C2350.8 1158.0 2352.0 1157.3 2354.1 1157.1C2356.1 1157.0 2358.7 1157.6 2361.3 1158.2C2363.8 1158.7 2366.7 1160.2 2369.5 1160.2C2372.2 1160.2 2375.3 1159.0 2377.7 1158.2C2380.0 1157.3 2381.8 1155.8 2383.8 1155.1C2385.9 1154.4 2387.9 1153.9 2390.0 1154.1C2392.0 1154.2 2394.1 1154.9 2396.1 1156.1C2398.2 1157.3 2400.2 1159.6 2402.3 1161.2C2404.3 1162.9 2406.7 1165.1 2408.4 1165.9C2410.1 1166.8 2410.8 1166.8 2412.5 1166.4C2414.2 1165.9 2416.6 1164.6 2418.7 1163.3C2420.7 1162.0 2422.8 1159.7 2424.8 1158.6C2426.9 1157.4 2429.1 1156.5 2431.0 1156.5C2432.8 1156.5 2434.4 1157.3 2436.1 1158.6C2437.8 1159.9 2439.5 1162.3 2441.2 1164.3C2442.9 1166.3 2444.6 1169.2 2446.3 1170.5C2448.0 1171.7 2449.7 1172.1 2451.5 1171.9C2453.2 1171.7 2454.7 1170.9 2456.6 1169.4C2458.5 1168.0 2460.7 1164.9 2462.7 1163.3C2464.8 1161.7 2467.2 1160.4 2468.9 1159.8C2470.6 1159.2 2471.4 1159.2 2473.0 1159.6C2474.5 1160.0 2476.4 1160.8 2478.1 1162.3C2479.8 1163.7 2481.5 1166.8 2483.2 1168.4C2484.9 1170.0 2486.6 1171.7 2488.4 1171.9C2490.1 1172.1 2491.8 1171.4 2493.5 1169.4C2495.2 1167.5 2496.9 1163.3 2498.6 1160.2C2500.3 1157.1 2502.0 1153.2 2503.7 1151.0C2505.4 1148.8 2507.5 1147.7 2508.9 1146.9C2510.2 1146.1 2510.7 1145.9 2511.9 1146.3C2513.1 1146.6 2514.5 1147.3 2516.0 1148.9C2517.6 1150.6 2519.4 1153.7 2521.2 1156.1C2522.9 1158.5 2524.7 1161.6 2526.3 1163.3C2527.8 1165.0 2529.0 1166.0 2530.4 1166.4C2531.7 1166.7 2533.1 1166.5 2534.5 1165.3C2535.8 1164.1 2537.0 1161.2 2538.6 1159.2C2540.1 1157.1 2542.0 1154.4 2543.7 1153.0C2545.4 1151.7 2547.1 1150.8 2548.8 1151.0C2550.5 1151.1 2552.2 1152.2 2554.0 1154.1C2555.7 1155.9 2557.4 1159.7 2559.1 1162.3C2560.8 1164.8 2562.5 1167.8 2564.2 1169.4C2565.9 1171.0 2567.6 1171.9 2569.3 1171.9C2571.0 1171.9 2572.7 1171.4 2574.5 1169.4C2576.2 1167.5 2577.9 1163.1 2579.6 1160.2C2581.3 1157.3 2583.0 1153.8 2584.7 1152.0C2586.4 1150.2 2588.1 1149.5 2589.8 1149.3C2591.5 1149.2 2593.2 1149.7 2595.0 1151.0C2596.7 1152.3 2598.4 1155.1 2600.1 1157.1C2601.8 1159.2 2603.5 1161.8 2605.2 1163.3C2606.9 1164.7 2608.6 1165.9 2610.3 1165.7C2612.0 1165.6 2613.7 1164.0 2615.5 1162.3C2617.2 1160.5 2618.9 1156.9 2620.6 1155.1C2622.3 1153.3 2624.2 1152.2 2625.7 1151.6C2627.2 1151.0 2628.3 1150.8 2629.8 1151.4C2631.3 1152.0 2633.2 1153.3 2634.9 1155.1C2636.6 1156.9 2638.3 1160.4 2640.1 1162.3C2641.8 1164.1 2643.6 1165.3 2645.2 1165.9C2646.7 1166.6 2647.7 1166.8 2649.3 1166.4C2650.8 1165.9 2652.7 1165.2 2654.4 1163.3C2656.1 1161.4 2657.8 1157.8 2659.5 1155.1C2661.2 1152.3 2662.8 1148.9 2664.7 1146.9C2666.5 1144.8 2668.8 1143.5 2670.8 1142.8C2672.9 1142.1 2674.9 1142.1 2677.0 1142.8C2679.0 1143.5 2681.2 1145.9 2683.1 1146.9C2685.0 1147.9 2686.5 1148.6 2688.2 1148.9C2689.9 1149.3 2691.6 1149.4 2693.4 1148.9C2695.1 1148.4 2696.8 1146.9 2698.5 1145.9C2700.2 1144.8 2701.9 1143.4 2703.6 1142.8C2705.3 1142.2 2706.8 1141.8 2708.7 1142.2C2710.6 1142.5 2712.8 1143.5 2714.9 1144.8C2716.9 1146.1 2719.0 1148.2 2721.0 1150.0C2723.1 1151.7 2725.1 1153.7 2727.2 1155.1C2729.2 1156.4 2731.1 1157.5 2733.3 1158.2C2735.6 1158.8 2737.9 1159.0 2740.5 1159.2C2743.1 1159.3 2746.3 1159.0 2748.7 1159.2C2751.1 1159.3 2752.8 1159.5 2754.9 1160.2C2756.9 1160.9 2758.6 1162.1 2761.0 1163.3C2763.4 1164.5 2766.5 1166.2 2769.2 1167.4C2771.9 1168.5 2774.7 1169.4 2777.4 1170.0C2780.1 1170.7 2782.9 1171.2 2785.6 1171.5C2788.3 1171.7 2790.7 1171.6 2793.8 1171.5C2796.9 1171.3 2802.1 1170.7 2804.5 1170.5C2806.9 1170.2 2807.5 1170.1 2808.2 1170.0" stroke="#515151"/>
<path d="M1565.5 1155.3C1566.6 1154.1 1570.0 1150.5 1572.3 1148.4C1574.6 1146.3 1577.2 1143.8 1579.2 1142.6C1581.2 1141.3 1582.6 1140.5 1584.4 1140.9C1586.1 1141.3 1587.8 1142.1 1589.5 1145.0C1591.2 1147.8 1593.0 1152.1 1594.7 1158.0C1596.4 1163.9 1598.1 1172.1 1599.8 1180.4C1601.5 1188.7 1603.3 1199.0 1605.0 1207.9C1606.7 1216.7 1608.4 1225.6 1610.1 1233.6C1611.9 1241.7 1613.6 1249.4 1615.3 1256.0C1617.0 1262.6 1618.8 1269.2 1620.4 1273.2C1622.1 1277.2 1623.5 1279.7 1624.9 1280.0C1626.3 1280.3 1627.7 1279.5 1629.0 1274.9C1630.4 1270.3 1631.7 1262.6 1633.2 1252.5C1634.6 1242.5 1636.2 1227.9 1637.6 1214.7C1639.1 1201.6 1640.3 1188.1 1641.8 1173.5C1643.2 1158.9 1644.8 1142.6 1646.2 1127.1C1647.7 1111.6 1648.9 1096.2 1650.3 1080.7C1651.8 1065.3 1653.4 1048.6 1654.8 1034.3C1656.2 1020.0 1657.5 1007.4 1658.9 994.8C1660.4 982.2 1662.0 968.8 1663.4 958.7C1664.8 948.7 1666.3 940.7 1667.5 934.7C1668.8 928.7 1669.9 925.3 1671.0 922.6C1672.0 920.0 1672.7 918.5 1673.7 918.5C1674.7 918.5 1675.9 919.4 1677.1 922.6C1678.4 925.9 1679.8 931.2 1681.3 938.1C1682.7 945.0 1684.3 953.9 1685.7 963.9C1687.2 973.9 1688.4 985.9 1689.9 998.2C1691.3 1010.6 1692.9 1024.3 1694.3 1037.8C1695.8 1051.2 1697.0 1064.7 1698.5 1079.0C1699.9 1093.3 1701.5 1109.4 1702.9 1123.7C1704.4 1138.0 1705.6 1151.2 1707.0 1164.9C1708.5 1178.7 1710.1 1193.0 1711.5 1206.2C1712.9 1219.3 1714.2 1231.9 1715.6 1244.0C1717.1 1256.0 1718.6 1268.0 1720.1 1278.3C1721.6 1288.6 1723.1 1298.1 1724.6 1305.8C1726.0 1313.5 1727.1 1319.3 1728.7 1324.7C1730.2 1330.1 1732.1 1335.0 1733.8 1338.5C1735.6 1341.9 1737.3 1343.9 1739.0 1345.3C1740.7 1346.8 1742.4 1347.3 1744.2 1347.0C1745.9 1346.8 1747.6 1345.3 1749.3 1343.6C1751.0 1341.9 1752.7 1339.6 1754.5 1336.7C1756.2 1333.9 1757.9 1330.4 1759.6 1326.4C1761.3 1322.4 1763.1 1317.8 1764.8 1312.7C1766.5 1307.5 1768.2 1301.5 1769.9 1295.5C1771.6 1289.5 1773.4 1283.2 1775.1 1276.6C1776.8 1270.0 1778.5 1263.1 1780.2 1256.0C1782.0 1248.8 1783.7 1241.1 1785.4 1233.6C1787.1 1226.2 1788.8 1218.8 1790.5 1211.3C1792.3 1203.9 1794.0 1196.4 1795.7 1189.0C1797.4 1181.5 1799.1 1173.8 1800.9 1166.6C1802.6 1159.5 1804.3 1152.3 1806.0 1146.0C1807.7 1139.7 1809.5 1134.3 1811.2 1128.8C1812.9 1123.4 1814.3 1118.2 1816.3 1113.4C1818.3 1108.5 1820.9 1103.3 1823.2 1099.6C1825.5 1095.9 1827.4 1093.2 1830.1 1091.0C1832.7 1088.9 1836.9 1087.5 1839.0 1086.8C1841.2 1086.2 1841.6 1086.7 1843.1 1087.2C1844.6 1087.7 1846.2 1088.7 1848.1 1089.8C1849.9 1090.9 1852.1 1092.6 1854.1 1093.9C1856.1 1095.1 1858.0 1096.2 1860.1 1097.3C1862.3 1098.3 1865.0 1099.3 1867.2 1100.3C1869.4 1101.3 1871.2 1102.0 1873.2 1103.3C1875.2 1104.6 1877.2 1106.3 1879.2 1108.3C1881.2 1110.3 1883.4 1113.2 1885.3 1115.4C1887.1 1117.5 1888.4 1119.2 1890.3 1121.4C1892.1 1123.6 1894.3 1126.1 1896.3 1128.4C1898.3 1130.8 1900.3 1133.1 1902.3 1135.5C1904.4 1137.8 1906.4 1140.0 1908.4 1142.5C1910.4 1145.0 1912.4 1147.9 1914.4 1150.5C1916.4 1153.2 1918.4 1156.1 1920.4 1158.6C1922.4 1161.1 1924.6 1163.6 1926.5 1165.6C1928.3 1167.6 1929.8 1169.2 1931.5 1170.6C1933.2 1172.1 1934.8 1173.5 1936.5 1174.2C1938.2 1175.0 1939.9 1175.3 1941.5 1175.2C1943.2 1175.1 1944.9 1174.6 1946.6 1173.6C1948.2 1172.7 1949.9 1171.0 1951.6 1169.6C1953.3 1168.3 1954.8 1166.8 1956.6 1165.6C1958.4 1164.4 1960.3 1163.4 1962.6 1162.6C1965.0 1161.8 1968.0 1161.3 1970.7 1161.0C1973.4 1160.6 1976.0 1160.7 1978.7 1160.6C1981.4 1160.4 1984.4 1160.5 1986.8 1160.2C1989.1 1159.8 1990.8 1159.5 1992.8 1158.6C1994.8 1157.6 1996.8 1156.2 1998.8 1154.5C2000.8 1152.9 2002.8 1150.5 2004.8 1148.5C2006.8 1146.5 2008.9 1144.3 2010.9 1142.5C2012.9 1140.6 2014.9 1139.0 2016.9 1137.5C2018.9 1136.0 2020.9 1134.7 2022.9 1133.4C2024.9 1132.2 2026.9 1131.0 2029.0 1130.0C2031.0 1129.0 2033.0 1128.2 2035.0 1127.4C2037.0 1126.6 2039.0 1125.9 2041.0 1125.4C2043.0 1124.9 2045.2 1124.2 2047.0 1124.4C2048.9 1124.6 2050.4 1125.2 2052.1 1126.4C2053.7 1127.6 2055.4 1129.4 2057.1 1131.4C2058.8 1133.4 2060.4 1136.1 2062.1 1138.5C2063.8 1140.8 2065.5 1143.2 2067.1 1145.5C2068.8 1147.9 2070.5 1150.4 2072.2 1152.5C2073.8 1154.7 2075.5 1156.8 2077.2 1158.6C2078.9 1160.3 2080.5 1161.8 2082.2 1163.0C2083.9 1164.2 2085.4 1164.9 2087.2 1165.6C2089.1 1166.3 2091.3 1166.9 2093.3 1167.2C2095.3 1167.5 2097.3 1167.8 2099.3 1167.6C2101.3 1167.4 2103.3 1166.9 2105.3 1166.2C2107.3 1165.5 2109.3 1164.5 2111.4 1163.6C2113.4 1162.7 2115.4 1161.8 2117.4 1161.0C2119.4 1160.2 2121.4 1159.5 2123.4 1159.0C2125.4 1158.4 2127.4 1157.9 2129.4 1157.6C2131.4 1157.3 2133.5 1157.2 2135.5 1157.2C2137.5 1157.2 2139.5 1157.3 2141.5 1157.6C2143.5 1157.9 2145.5 1158.4 2147.5 1159.0C2149.5 1159.5 2151.5 1160.3 2153.6 1161.0C2155.6 1161.7 2157.6 1162.3 2159.6 1163.0C2161.6 1163.7 2163.6 1164.5 2165.6 1165.0C2167.6 1165.5 2169.6 1165.9 2171.6 1166.2C2173.6 1166.5 2175.7 1166.7 2177.7 1167.0C2179.7 1167.3 2181.7 1167.7 2183.7 1168.2C2185.7 1168.8 2187.7 1169.6 2189.7 1170.2C2191.7 1170.9 2193.7 1171.7 2195.8 1172.2C2197.8 1172.8 2199.8 1173.4 2201.8 1173.6C2203.8 1173.9 2205.8 1173.8 2207.8 1173.6C2209.8 1173.5 2211.5 1173.0 2213.8 1172.6C2216.2 1172.3 2219.2 1171.9 2221.9 1171.6C2224.6 1171.4 2227.2 1171.2 2229.9 1171.2C2232.6 1171.2 2235.6 1171.7 2238.0 1171.6C2240.3 1171.5 2242.0 1171.3 2244.0 1170.6C2246.0 1170.0 2248.0 1168.8 2250.0 1167.6C2252.0 1166.4 2254.0 1164.8 2256.0 1163.6C2258.1 1162.4 2260.1 1161.3 2262.1 1160.6C2264.1 1159.8 2266.1 1159.4 2268.1 1159.2C2270.1 1158.9 2272.1 1159.0 2274.1 1159.0C2276.1 1159.0 2278.2 1159.2 2280.2 1159.2C2282.2 1159.2 2284.2 1159.1 2286.2 1159.0C2288.2 1158.8 2289.9 1158.5 2292.2 1158.2C2294.6 1157.8 2297.6 1157.3 2300.3 1157.0C2302.9 1156.6 2304.6 1156.2 2308.3 1156.0C2312.0 1155.7 2318.6 1155.6 2322.3 1155.5C2326.0 1155.3 2327.8 1155.3 2330.5 1155.1C2333.2 1154.8 2336.0 1154.1 2338.7 1154.1C2341.4 1154.0 2344.2 1154.1 2346.9 1154.7C2349.6 1155.3 2352.4 1156.5 2355.1 1157.7C2357.8 1159.0 2360.6 1160.8 2363.3 1162.3C2366.0 1163.7 2368.8 1165.2 2371.5 1166.4C2374.2 1167.5 2377.0 1168.3 2379.7 1169.0C2382.4 1169.7 2385.2 1170.2 2387.9 1170.5C2390.6 1170.7 2393.4 1170.6 2396.1 1170.5C2398.8 1170.3 2401.6 1169.8 2404.3 1169.4C2407.0 1169.1 2409.8 1168.7 2412.5 1168.4C2415.2 1168.1 2418.0 1167.9 2420.7 1167.4C2423.4 1166.9 2426.2 1166.0 2428.9 1165.3C2431.6 1164.6 2434.4 1163.7 2437.1 1163.3C2439.8 1162.8 2442.6 1162.6 2445.3 1162.7C2448.0 1162.8 2450.8 1163.3 2453.5 1163.9C2456.2 1164.5 2459.0 1165.6 2461.7 1166.4C2464.4 1167.1 2467.2 1167.8 2469.9 1168.4C2472.6 1169.0 2475.4 1169.6 2478.1 1170.0C2480.8 1170.5 2483.6 1170.7 2486.3 1170.9C2489.0 1171.0 2491.8 1171.0 2494.5 1170.9C2497.2 1170.7 2500.0 1170.5 2502.7 1170.0C2505.4 1169.6 2508.2 1169.0 2510.9 1168.4C2513.6 1167.8 2516.4 1166.9 2519.1 1166.4C2521.8 1165.8 2524.6 1165.6 2527.3 1165.3C2530.0 1165.1 2532.8 1164.9 2535.5 1164.9C2538.2 1164.9 2541.0 1165.3 2543.7 1165.3C2546.4 1165.4 2549.2 1165.7 2551.9 1165.3C2554.6 1165.0 2557.4 1164.1 2560.1 1163.3C2562.8 1162.4 2565.6 1161.1 2568.3 1160.2C2571.0 1159.3 2573.8 1158.8 2576.5 1158.2C2579.2 1157.5 2582.0 1157.0 2584.7 1156.1C2587.4 1155.2 2590.2 1154.1 2592.9 1153.0C2595.6 1152.0 2598.7 1150.6 2601.1 1150.0C2603.5 1149.3 2605.2 1149.1 2607.3 1148.9C2609.3 1148.8 2611.0 1148.6 2613.4 1148.9C2615.8 1149.3 2618.9 1150.2 2621.6 1151.0C2624.3 1151.8 2627.1 1153.1 2629.8 1153.6C2632.5 1154.2 2635.3 1154.4 2638.0 1154.5C2640.7 1154.5 2643.5 1153.9 2646.2 1154.1C2648.9 1154.2 2651.7 1154.6 2654.4 1155.1C2657.1 1155.6 2659.9 1156.8 2662.6 1157.1C2665.3 1157.5 2668.1 1157.3 2670.8 1157.1C2673.5 1157.0 2676.3 1156.4 2679.0 1156.1C2681.7 1155.8 2684.8 1154.9 2687.2 1155.1C2689.6 1155.2 2691.3 1155.9 2693.4 1157.1C2695.4 1158.3 2697.5 1160.5 2699.5 1162.3C2701.6 1164.0 2703.9 1166.1 2705.7 1167.4C2707.4 1168.7 2708.0 1169.5 2709.8 1170.0C2711.5 1170.6 2713.5 1170.6 2715.9 1170.5C2718.3 1170.3 2721.4 1169.8 2724.1 1169.4C2726.8 1169.1 2729.6 1168.4 2732.3 1168.4C2735.0 1168.4 2738.1 1169.2 2740.5 1169.4C2742.9 1169.7 2744.6 1170.2 2746.7 1169.8C2748.7 1169.5 2750.8 1168.5 2752.8 1167.4C2754.9 1166.3 2756.9 1164.5 2759.0 1163.3C2761.0 1162.1 2763.1 1160.9 2765.1 1160.2C2767.2 1159.5 2768.9 1159.4 2771.3 1159.2C2773.6 1158.9 2776.7 1158.7 2779.5 1158.8C2782.2 1158.9 2784.9 1159.4 2787.7 1159.8C2790.4 1160.2 2793.1 1160.8 2795.9 1161.2C2798.7 1161.6 2802.4 1162.0 2804.5 1162.3C2806.5 1162.5 2807.5 1162.6 2808.2 1162.7" stroke="#F14040"/>
<path d="M1565.5 1156.3C1566.6 1155.5 1570.0 1152.9 1572.3 1151.2C1574.6 1149.5 1577.2 1147.2 1579.2 1146.0C1581.2 1144.9 1582.6 1144.0 1584.4 1144.3C1586.1 1144.6 1587.8 1145.2 1589.5 1147.7C1591.2 1150.3 1593.0 1154.3 1594.7 1159.8C1596.4 1165.2 1598.1 1172.6 1599.8 1180.4C1601.5 1188.1 1603.3 1197.8 1605.0 1206.2C1606.7 1214.5 1608.4 1222.5 1610.1 1230.2C1611.9 1237.9 1613.6 1246.0 1615.3 1252.5C1617.0 1259.1 1618.7 1265.4 1620.4 1269.7C1622.2 1274.0 1624.1 1277.7 1625.6 1278.3C1627.1 1278.9 1628.3 1277.7 1629.7 1273.2C1631.2 1268.6 1632.7 1260.6 1634.2 1250.8C1635.7 1241.1 1637.2 1227.3 1638.7 1214.7C1640.1 1202.1 1641.4 1189.3 1642.8 1175.2C1644.2 1161.2 1645.8 1145.4 1647.3 1130.5C1648.7 1115.7 1649.9 1100.8 1651.4 1085.9C1652.8 1071.0 1654.4 1054.9 1655.8 1041.2C1657.3 1027.5 1658.5 1015.1 1660.0 1003.4C1661.4 991.7 1663.0 980.2 1664.4 970.8C1665.9 961.3 1667.1 953.0 1668.6 946.7C1670.0 940.4 1671.6 936.0 1673.0 933.0C1674.5 929.9 1675.8 928.5 1677.1 928.5C1678.5 928.5 1679.8 929.3 1681.3 933.0C1682.7 936.6 1684.2 943.0 1685.7 950.1C1687.2 957.3 1688.8 966.2 1690.2 975.9C1691.6 985.6 1692.9 996.8 1694.3 1008.6C1695.8 1020.3 1697.4 1033.5 1698.8 1046.4C1700.2 1059.2 1701.5 1072.4 1702.9 1085.9C1704.4 1099.3 1706.0 1113.4 1707.4 1127.1C1708.8 1140.9 1710.1 1154.9 1711.5 1168.4C1712.9 1181.8 1714.5 1195.3 1716.0 1207.9C1717.4 1220.5 1718.7 1232.8 1720.1 1244.0C1721.5 1255.1 1723.1 1265.4 1724.6 1274.9C1726.0 1284.3 1727.1 1292.6 1728.7 1300.7C1730.2 1308.7 1732.1 1316.7 1733.8 1323.0C1735.6 1329.3 1737.3 1334.4 1739.0 1338.5C1740.7 1342.5 1742.4 1345.2 1744.2 1347.0C1745.9 1348.9 1747.6 1349.7 1749.3 1349.8C1751.0 1349.9 1752.7 1349.0 1754.5 1347.7C1756.2 1346.4 1757.9 1344.6 1759.6 1341.9C1761.3 1339.2 1763.1 1335.9 1764.8 1331.6C1766.5 1327.3 1768.2 1321.8 1769.9 1316.1C1771.6 1310.4 1773.4 1304.1 1775.1 1297.2C1776.8 1290.3 1778.5 1282.6 1780.2 1274.9C1782.0 1267.1 1783.7 1259.1 1785.4 1250.8C1787.1 1242.5 1788.8 1233.4 1790.5 1225.1C1792.3 1216.7 1794.0 1209.0 1795.7 1201.0C1797.4 1193.0 1799.1 1184.4 1800.9 1176.9C1802.6 1169.5 1804.3 1162.9 1806.0 1156.3C1807.7 1149.7 1809.5 1143.0 1811.2 1137.4C1812.9 1131.9 1814.3 1127.6 1816.3 1123.0C1818.3 1118.4 1820.9 1113.7 1823.2 1109.9C1825.5 1106.2 1827.6 1103.2 1830.1 1100.3C1832.5 1097.5 1836.0 1094.1 1838.0 1092.9C1840.0 1091.6 1840.6 1092.3 1842.1 1092.7C1843.6 1093.1 1845.2 1094.3 1847.1 1095.3C1848.9 1096.3 1850.9 1097.7 1853.1 1098.7C1855.3 1099.7 1857.8 1100.5 1860.1 1101.3C1862.5 1102.1 1865.0 1102.5 1867.2 1103.3C1869.4 1104.1 1871.2 1105.0 1873.2 1106.3C1875.2 1107.7 1877.2 1109.3 1879.2 1111.3C1881.2 1113.4 1883.4 1116.0 1885.3 1118.4C1887.1 1120.7 1888.6 1123.1 1890.3 1125.4C1892.0 1127.8 1893.6 1129.9 1895.3 1132.4C1897.0 1135.0 1898.7 1137.6 1900.3 1140.5C1902.0 1143.3 1903.7 1146.7 1905.4 1149.5C1907.0 1152.4 1908.5 1154.7 1910.4 1157.6C1912.2 1160.4 1914.4 1163.8 1916.4 1166.6C1918.4 1169.5 1920.4 1172.3 1922.4 1174.6C1924.5 1177.0 1926.5 1179.1 1928.5 1180.7C1930.5 1182.3 1932.5 1183.4 1934.5 1184.3C1936.5 1185.2 1938.9 1185.8 1940.5 1186.1C1942.2 1186.4 1943.0 1186.5 1944.5 1186.3C1946.1 1186.1 1947.9 1185.9 1949.6 1185.1C1951.2 1184.3 1952.8 1183.3 1954.6 1181.7C1956.4 1180.1 1958.6 1177.7 1960.6 1175.7C1962.6 1173.6 1964.6 1171.5 1966.7 1169.6C1968.7 1167.7 1970.7 1165.9 1972.7 1164.2C1974.7 1162.5 1976.7 1160.8 1978.7 1159.6C1980.7 1158.3 1982.7 1157.3 1984.7 1156.6C1986.8 1155.8 1988.8 1155.6 1990.8 1155.2C1992.8 1154.8 1994.8 1154.8 1996.8 1154.1C1998.8 1153.5 2000.8 1152.6 2002.8 1151.5C2004.8 1150.4 2006.8 1149.0 2008.9 1147.5C2010.9 1146.0 2012.9 1144.0 2014.9 1142.5C2016.9 1141.0 2018.9 1139.8 2020.9 1138.5C2022.9 1137.1 2024.9 1135.9 2026.9 1134.5C2029.0 1133.0 2031.0 1131.6 2033.0 1130.0C2035.0 1128.5 2037.0 1126.6 2039.0 1125.0C2041.0 1123.4 2043.2 1121.7 2045.0 1120.4C2046.9 1119.1 2048.4 1118.0 2050.1 1117.4C2051.7 1116.7 2053.4 1116.4 2055.1 1116.4C2056.8 1116.4 2058.4 1116.5 2060.1 1117.4C2061.8 1118.2 2063.5 1119.7 2065.1 1121.4C2066.8 1123.1 2068.5 1125.2 2070.2 1127.4C2071.8 1129.6 2073.5 1132.3 2075.2 1134.5C2076.9 1136.6 2078.5 1138.6 2080.2 1140.5C2081.9 1142.3 2083.4 1143.8 2085.2 1145.5C2087.1 1147.2 2089.2 1148.9 2091.3 1150.5C2093.3 1152.2 2095.3 1153.9 2097.3 1155.6C2099.3 1157.2 2101.5 1159.1 2103.3 1160.6C2105.2 1162.1 2106.7 1163.6 2108.3 1164.6C2110.0 1165.6 2111.7 1166.4 2113.4 1166.6C2115.0 1166.8 2116.7 1166.3 2118.4 1165.6C2120.1 1164.9 2121.7 1163.9 2123.4 1162.6C2125.1 1161.2 2126.8 1159.2 2128.4 1157.6C2130.1 1155.9 2131.8 1154.0 2133.5 1152.5C2135.1 1151.0 2136.8 1149.5 2138.5 1148.5C2140.2 1147.5 2142.0 1146.9 2143.5 1146.5C2145.0 1146.1 2145.8 1146.1 2147.5 1146.1C2149.2 1146.1 2151.5 1146.3 2153.6 1146.5C2155.6 1146.7 2157.6 1147.2 2159.6 1147.5C2161.6 1147.9 2163.6 1148.3 2165.6 1148.5C2167.6 1148.8 2169.8 1148.8 2171.6 1148.9C2173.5 1149.1 2175.0 1148.9 2176.7 1149.5C2178.3 1150.1 2180.0 1151.0 2181.7 1152.5C2183.4 1154.0 2185.0 1156.6 2186.7 1158.6C2188.4 1160.6 2190.1 1162.8 2191.7 1164.6C2193.4 1166.4 2195.1 1168.3 2196.8 1169.6C2198.4 1171.0 2199.9 1171.9 2201.8 1172.6C2203.6 1173.4 2205.8 1173.8 2207.8 1174.2C2209.8 1174.6 2211.8 1174.6 2213.8 1175.0C2215.9 1175.5 2217.9 1176.0 2219.9 1176.7C2221.9 1177.4 2223.9 1178.5 2225.9 1179.3C2227.9 1180.0 2229.9 1180.8 2231.9 1181.3C2233.9 1181.8 2236.1 1182.2 2238.0 1182.3C2239.8 1182.3 2241.3 1182.1 2243.0 1181.7C2244.7 1181.2 2246.3 1180.5 2248.0 1179.7C2249.7 1178.8 2251.4 1177.7 2253.0 1176.7C2254.7 1175.7 2256.4 1174.6 2258.1 1173.6C2259.7 1172.6 2261.4 1171.4 2263.1 1170.6C2264.8 1169.9 2266.3 1169.3 2268.1 1169.0C2269.9 1168.8 2272.1 1169.1 2274.1 1169.2C2276.1 1169.4 2278.3 1169.9 2280.2 1170.0C2282.0 1170.2 2283.5 1170.5 2285.2 1170.2C2286.9 1170.0 2288.4 1169.2 2290.2 1168.6C2292.1 1168.0 2294.2 1167.1 2296.2 1166.6C2298.2 1166.1 2300.3 1165.8 2302.3 1165.6C2304.3 1165.4 2305.6 1165.8 2308.3 1165.6C2311.0 1165.4 2315.2 1165.0 2318.2 1164.3C2321.2 1163.6 2324.0 1162.4 2326.4 1161.2C2328.8 1160.0 2330.5 1158.3 2332.6 1157.1C2334.6 1156.0 2336.7 1155.0 2338.7 1154.5C2340.8 1153.9 2342.8 1153.6 2344.9 1153.6C2346.9 1153.6 2348.6 1153.9 2351.0 1154.5C2353.4 1155.0 2356.5 1156.2 2359.2 1157.1C2361.9 1158.1 2364.7 1159.1 2367.4 1160.2C2370.1 1161.3 2372.9 1162.6 2375.6 1163.9C2378.3 1165.2 2381.1 1166.6 2383.8 1168.0C2386.5 1169.4 2389.3 1171.0 2392.0 1172.5C2394.7 1174.0 2397.5 1175.6 2400.2 1177.0C2402.9 1178.4 2405.7 1179.7 2408.4 1180.7C2411.1 1181.7 2414.2 1182.6 2416.6 1183.2C2419.0 1183.7 2420.4 1183.9 2422.8 1183.8C2425.1 1183.6 2428.2 1183.0 2431.0 1182.3C2433.7 1181.7 2436.4 1180.6 2439.2 1179.7C2441.9 1178.8 2444.6 1177.8 2447.4 1177.0C2450.1 1176.2 2452.8 1175.5 2455.6 1175.0C2458.3 1174.4 2461.0 1174.2 2463.8 1173.5C2466.5 1172.8 2469.6 1171.8 2472.0 1170.9C2474.3 1169.9 2476.1 1168.7 2478.1 1168.0C2480.2 1167.2 2482.2 1166.6 2484.3 1166.4C2486.3 1166.1 2488.4 1166.4 2490.4 1166.4C2492.5 1166.4 2494.5 1166.6 2496.6 1166.4C2498.6 1166.1 2500.7 1165.5 2502.7 1164.7C2504.8 1164.0 2506.8 1162.8 2508.9 1161.8C2510.9 1160.9 2513.0 1159.9 2515.0 1159.2C2517.1 1158.5 2519.4 1158.0 2521.2 1157.7C2522.9 1157.5 2523.5 1157.4 2525.3 1157.7C2527.0 1158.1 2529.4 1159.0 2531.4 1159.8C2533.5 1160.6 2535.5 1161.9 2537.6 1162.7C2539.6 1163.4 2541.7 1164.2 2543.7 1164.3C2545.8 1164.4 2547.8 1163.8 2549.9 1163.3C2551.9 1162.8 2554.0 1161.8 2556.0 1161.2C2558.1 1160.6 2560.1 1160.0 2562.2 1159.8C2564.2 1159.6 2566.3 1159.7 2568.3 1159.8C2570.4 1159.9 2572.4 1160.4 2574.5 1160.6C2576.5 1160.9 2578.6 1161.2 2580.6 1161.2C2582.7 1161.3 2584.7 1161.2 2586.8 1160.8C2588.8 1160.4 2590.9 1159.6 2592.9 1158.8C2595.0 1157.9 2597.0 1156.5 2599.1 1155.7C2601.1 1154.9 2603.5 1154.3 2605.2 1154.1C2606.9 1153.8 2607.6 1153.7 2609.3 1154.1C2611.0 1154.4 2613.4 1155.3 2615.5 1156.1C2617.5 1156.9 2619.6 1158.2 2621.6 1158.6C2623.7 1159.0 2625.7 1159.0 2627.8 1158.6C2629.8 1158.2 2631.9 1157.1 2633.9 1156.1C2636.0 1155.1 2638.0 1153.5 2640.1 1152.4C2642.1 1151.3 2643.8 1150.5 2646.2 1149.5C2648.6 1148.6 2651.7 1147.7 2654.4 1146.9C2657.1 1146.1 2659.9 1145.7 2662.6 1144.8C2665.3 1144.0 2668.1 1142.8 2670.8 1141.8C2673.5 1140.7 2676.6 1139.4 2679.0 1138.7C2681.4 1137.9 2683.4 1137.5 2685.2 1137.2C2686.9 1137.0 2687.5 1136.8 2689.3 1137.0C2691.0 1137.3 2693.4 1137.5 2695.4 1138.7C2697.5 1139.8 2699.5 1141.9 2701.6 1143.8C2703.6 1145.7 2705.7 1148.2 2707.7 1150.0C2709.8 1151.7 2711.8 1153.0 2713.9 1154.1C2715.9 1155.1 2717.6 1155.6 2720.0 1156.1C2722.4 1156.6 2725.5 1156.7 2728.2 1157.1C2730.9 1157.5 2733.7 1157.9 2736.4 1158.6C2739.1 1159.2 2741.9 1160.3 2744.6 1161.2C2747.3 1162.2 2750.1 1163.4 2752.8 1164.3C2755.5 1165.2 2758.3 1165.8 2761.0 1166.4C2763.7 1166.9 2766.5 1167.0 2769.2 1167.4C2771.9 1167.7 2774.7 1168.0 2777.4 1168.4C2780.1 1168.8 2782.9 1169.5 2785.6 1169.8C2788.3 1170.2 2790.7 1170.5 2793.8 1170.5C2796.9 1170.4 2802.1 1169.7 2804.5 1169.4C2806.9 1169.2 2807.5 1169.1 2808.2 1169.0" stroke="#1A6FDF"/>
<path d="M1565.5 1154.6C1566.3 1153.2 1568.6 1148.9 1570.6 1146.0C1572.6 1143.2 1575.2 1139.3 1577.5 1137.4C1579.8 1135.5 1582.2 1134.4 1584.4 1134.7C1586.5 1135.0 1588.5 1135.8 1590.5 1139.1C1592.6 1142.5 1594.6 1148.0 1596.4 1154.6C1598.2 1161.2 1599.8 1170.1 1601.5 1178.7C1603.3 1187.3 1605.0 1197.0 1606.7 1206.2C1608.4 1215.3 1610.1 1225.1 1611.9 1233.6C1613.6 1242.2 1615.4 1250.8 1617.0 1257.7C1618.6 1264.6 1620.0 1271.0 1621.5 1274.9C1622.9 1278.8 1624.2 1281.1 1625.6 1281.1C1627.0 1281.1 1628.3 1279.3 1629.7 1274.9C1631.2 1270.4 1632.7 1263.4 1634.2 1254.3C1635.7 1245.1 1637.2 1231.9 1638.7 1219.9C1640.1 1207.9 1641.4 1195.8 1642.8 1182.1C1644.2 1168.4 1645.8 1151.7 1647.3 1137.4C1648.7 1123.1 1649.9 1109.9 1651.4 1096.2C1652.8 1082.4 1654.4 1067.5 1655.8 1054.9C1657.3 1042.3 1658.5 1031.5 1660.0 1020.6C1661.4 1009.7 1663.0 998.5 1664.4 989.7C1665.9 980.8 1667.1 973.0 1668.6 967.3C1670.0 961.6 1671.7 957.7 1673.0 955.3C1674.3 952.9 1675.2 952.6 1676.5 952.9C1677.7 953.2 1679.2 954.0 1680.6 957.0C1682.0 960.0 1683.6 964.7 1685.1 970.8C1686.5 976.8 1687.7 984.2 1689.2 993.1C1690.6 1002.0 1692.2 1013.1 1693.6 1024.0C1695.1 1034.9 1696.3 1046.4 1697.8 1058.4C1699.2 1070.4 1700.8 1083.6 1702.2 1096.2C1703.7 1108.8 1704.9 1121.4 1706.4 1134.0C1707.8 1146.6 1709.4 1159.8 1710.8 1171.8C1712.3 1183.8 1713.5 1195.3 1714.9 1206.2C1716.4 1217.0 1718.0 1227.6 1719.4 1237.1C1720.8 1246.5 1722.0 1254.8 1723.5 1262.9C1725.1 1270.9 1727.0 1278.6 1728.7 1285.2C1730.4 1291.8 1732.1 1297.5 1733.8 1302.4C1735.6 1307.2 1737.3 1311.2 1739.0 1314.4C1740.7 1317.5 1742.4 1319.7 1744.2 1321.3C1745.9 1322.9 1747.9 1323.4 1749.3 1324.0C1750.7 1324.6 1751.3 1325.0 1752.7 1324.7C1754.2 1324.4 1756.2 1323.7 1757.9 1322.3C1759.6 1320.9 1761.3 1319.2 1763.1 1316.1C1764.8 1313.1 1766.5 1308.7 1768.2 1304.1C1769.9 1299.5 1771.6 1294.6 1773.4 1288.6C1775.1 1282.6 1776.8 1274.9 1778.5 1268.0C1780.2 1261.1 1782.0 1254.5 1783.7 1247.4C1785.4 1240.2 1787.1 1232.5 1788.8 1225.1C1790.5 1217.6 1792.3 1210.2 1794.0 1202.7C1795.7 1195.3 1797.4 1187.3 1799.1 1180.4C1800.9 1173.5 1802.1 1169.0 1804.3 1161.5C1806.5 1154.0 1809.0 1142.4 1812.2 1135.4C1815.3 1128.3 1820.0 1123.2 1823.2 1119.2C1826.3 1115.2 1828.5 1113.9 1831.1 1111.3C1833.7 1108.8 1836.9 1105.2 1839.0 1103.9C1841.2 1102.6 1842.2 1103.2 1844.1 1103.3C1845.9 1103.4 1848.1 1103.9 1850.1 1104.3C1852.1 1104.7 1854.1 1105.5 1856.1 1105.9C1858.1 1106.4 1860.1 1106.8 1862.2 1106.9C1864.2 1107.1 1866.2 1107.0 1868.2 1106.9C1870.2 1106.8 1872.2 1106.3 1874.2 1106.3C1876.2 1106.4 1878.4 1106.5 1880.2 1107.3C1882.1 1108.2 1883.6 1109.5 1885.3 1111.3C1886.9 1113.2 1888.8 1115.9 1890.3 1118.4C1891.8 1120.9 1893.0 1123.6 1894.3 1126.4C1895.6 1129.3 1897.0 1132.4 1898.3 1135.5C1899.7 1138.5 1900.8 1141.3 1902.3 1144.5C1903.9 1147.7 1905.7 1151.5 1907.4 1154.5C1909.0 1157.6 1910.6 1159.9 1912.4 1162.6C1914.2 1165.3 1916.4 1168.3 1918.4 1170.6C1920.4 1173.0 1922.4 1175.0 1924.5 1176.7C1926.5 1178.3 1928.5 1179.6 1930.5 1180.7C1932.5 1181.7 1934.5 1182.6 1936.5 1183.1C1938.5 1183.6 1940.7 1183.8 1942.5 1183.7C1944.4 1183.6 1945.9 1183.3 1947.6 1182.3C1949.2 1181.3 1950.9 1179.6 1952.6 1177.7C1954.3 1175.7 1955.9 1172.8 1957.6 1170.6C1959.3 1168.4 1961.0 1166.1 1962.6 1164.6C1964.3 1163.1 1966.0 1162.3 1967.7 1161.6C1969.3 1160.9 1971.0 1160.5 1972.7 1160.6C1974.4 1160.7 1976.0 1161.4 1977.7 1162.2C1979.4 1162.9 1980.9 1164.3 1982.7 1165.0C1984.6 1165.7 1986.8 1166.7 1988.8 1166.6C1990.8 1166.5 1992.8 1165.8 1994.8 1164.6C1996.8 1163.4 1998.8 1161.4 2000.8 1159.6C2002.8 1157.7 2004.8 1155.4 2006.8 1153.5C2008.9 1151.7 2010.9 1150.0 2012.9 1148.5C2014.9 1147.0 2016.9 1145.6 2018.9 1144.5C2020.9 1143.4 2022.9 1143.0 2024.9 1142.1C2026.9 1141.2 2029.0 1140.1 2031.0 1138.9C2033.0 1137.6 2035.0 1135.9 2037.0 1134.5C2039.0 1133.0 2041.2 1131.4 2043.0 1130.4C2044.9 1129.4 2046.7 1128.8 2048.0 1128.4C2049.4 1128.1 2049.9 1127.9 2051.1 1128.4C2052.2 1128.9 2053.6 1129.9 2055.1 1131.4C2056.6 1132.9 2058.4 1135.3 2060.1 1137.5C2061.8 1139.6 2063.5 1142.2 2065.1 1144.5C2066.8 1146.8 2068.5 1149.5 2070.2 1151.5C2071.8 1153.5 2073.3 1155.2 2075.2 1156.6C2077.0 1157.9 2079.2 1158.9 2081.2 1159.6C2083.2 1160.2 2085.2 1160.1 2087.2 1160.6C2089.2 1161.1 2091.3 1161.8 2093.3 1162.6C2095.3 1163.4 2097.3 1164.5 2099.3 1165.6C2101.3 1166.7 2103.3 1168.3 2105.3 1169.2C2107.3 1170.2 2109.7 1170.8 2111.4 1171.2C2113.0 1171.6 2113.9 1171.9 2115.4 1171.6C2116.9 1171.4 2118.7 1170.8 2120.4 1169.6C2122.1 1168.4 2123.7 1166.3 2125.4 1164.6C2127.1 1162.9 2128.8 1160.9 2130.4 1159.6C2132.1 1158.2 2133.6 1157.2 2135.5 1156.6C2137.3 1155.9 2139.5 1155.6 2141.5 1155.6C2143.5 1155.5 2145.5 1156.1 2147.5 1156.2C2149.5 1156.3 2151.5 1156.6 2153.6 1156.2C2155.6 1155.7 2157.7 1154.8 2159.6 1153.5C2161.4 1152.3 2162.9 1150.0 2164.6 1148.5C2166.3 1147.0 2168.0 1145.4 2169.6 1144.5C2171.3 1143.6 2173.3 1143.3 2174.7 1143.1C2176.0 1142.9 2176.3 1142.7 2177.7 1143.1C2179.0 1143.5 2181.0 1144.3 2182.7 1145.5C2184.4 1146.7 2186.0 1148.5 2187.7 1150.5C2189.4 1152.5 2191.1 1155.5 2192.7 1157.6C2194.4 1159.6 2195.9 1161.5 2197.8 1163.0C2199.6 1164.5 2201.8 1165.7 2203.8 1166.6C2205.8 1167.5 2207.8 1167.8 2209.8 1168.2C2211.8 1168.6 2213.8 1168.4 2215.9 1169.0C2217.9 1169.6 2219.9 1170.6 2221.9 1171.6C2223.9 1172.6 2225.9 1174.1 2227.9 1175.0C2229.9 1176.0 2232.3 1176.8 2233.9 1177.1C2235.6 1177.3 2236.5 1177.4 2238.0 1176.7C2239.5 1175.9 2241.3 1174.5 2243.0 1172.6C2244.7 1170.8 2246.3 1167.7 2248.0 1165.6C2249.7 1163.5 2251.4 1161.6 2253.0 1160.2C2254.7 1158.8 2256.2 1157.8 2258.1 1157.2C2259.9 1156.5 2262.1 1156.1 2264.1 1156.2C2266.1 1156.2 2268.1 1156.8 2270.1 1157.6C2272.1 1158.3 2274.1 1159.8 2276.1 1160.6C2278.2 1161.3 2280.2 1161.9 2282.2 1162.2C2284.2 1162.5 2286.2 1162.4 2288.2 1162.2C2290.2 1162.0 2292.2 1161.5 2294.2 1161.2C2296.2 1160.8 2297.9 1160.4 2300.3 1160.2C2302.6 1159.9 2305.3 1159.9 2308.3 1159.8C2311.3 1159.6 2315.2 1160.0 2318.2 1159.2C2321.2 1158.4 2324.0 1156.4 2326.4 1155.1C2328.8 1153.7 2330.5 1152.0 2332.6 1151.0C2334.6 1150.0 2336.5 1149.3 2338.7 1148.9C2340.9 1148.5 2343.5 1148.3 2345.9 1148.5C2348.3 1148.8 2350.5 1149.5 2353.1 1150.4C2355.6 1151.2 2358.5 1152.7 2361.3 1153.6C2364.0 1154.6 2366.7 1155.3 2369.5 1156.1C2372.2 1156.9 2374.9 1157.3 2377.7 1158.2C2380.4 1159.0 2383.1 1160.0 2385.9 1161.2C2388.6 1162.4 2391.3 1164.0 2394.1 1165.3C2396.8 1166.7 2399.5 1168.2 2402.3 1169.4C2405.0 1170.6 2407.7 1171.6 2410.5 1172.5C2413.2 1173.4 2415.9 1174.2 2418.7 1175.0C2421.4 1175.7 2424.1 1176.5 2426.9 1177.0C2429.6 1177.6 2432.3 1178.0 2435.1 1178.2C2437.8 1178.5 2440.5 1178.8 2443.3 1178.7C2446.0 1178.5 2448.7 1178.2 2451.5 1177.6C2454.2 1177.0 2456.9 1176.0 2459.7 1175.0C2462.4 1173.9 2465.5 1172.6 2467.9 1171.5C2470.2 1170.3 2472.0 1169.0 2474.0 1168.0C2476.1 1167.0 2477.8 1166.0 2480.2 1165.3C2482.5 1164.6 2485.6 1164.1 2488.4 1163.9C2491.1 1163.7 2493.8 1163.8 2496.6 1163.9C2499.3 1164.0 2502.0 1164.4 2504.8 1164.7C2507.5 1165.1 2510.2 1165.5 2513.0 1165.9C2515.7 1166.4 2518.4 1166.9 2521.2 1167.4C2523.9 1167.9 2526.6 1168.4 2529.4 1168.8C2532.1 1169.2 2535.2 1169.7 2537.6 1169.8C2539.9 1169.9 2541.7 1169.7 2543.7 1169.4C2545.8 1169.1 2547.8 1168.6 2549.9 1168.0C2551.9 1167.4 2554.0 1166.6 2556.0 1165.9C2558.1 1165.3 2560.1 1164.6 2562.2 1164.3C2564.2 1164.0 2565.9 1163.8 2568.3 1163.9C2570.7 1164.0 2573.8 1164.5 2576.5 1164.7C2579.2 1165.0 2582.0 1165.2 2584.7 1165.3C2587.4 1165.4 2590.2 1165.5 2592.9 1165.3C2595.6 1165.2 2598.4 1164.5 2601.1 1164.3C2603.8 1164.1 2606.6 1163.9 2609.3 1163.9C2612.0 1163.9 2614.8 1164.3 2617.5 1164.3C2620.2 1164.3 2623.3 1164.2 2625.7 1163.9C2628.1 1163.5 2629.8 1163.0 2631.9 1162.3C2633.9 1161.5 2636.0 1160.2 2638.0 1159.2C2640.1 1158.2 2642.1 1157.0 2644.2 1156.1C2646.2 1155.2 2647.9 1154.7 2650.3 1154.1C2652.7 1153.4 2655.8 1152.9 2658.5 1152.0C2661.2 1151.1 2664.0 1150.1 2666.7 1148.9C2669.4 1147.7 2672.5 1145.9 2674.9 1144.8C2677.3 1143.8 2679.0 1143.3 2681.1 1142.8C2683.1 1142.3 2685.2 1141.9 2687.2 1141.8C2689.3 1141.6 2691.3 1141.5 2693.4 1141.8C2695.4 1142.0 2697.5 1142.5 2699.5 1143.4C2701.6 1144.2 2703.6 1145.7 2705.7 1146.9C2707.7 1148.0 2709.8 1149.3 2711.8 1150.4C2713.9 1151.4 2715.9 1152.2 2718.0 1153.0C2720.0 1153.8 2722.1 1154.4 2724.1 1155.1C2726.2 1155.8 2728.2 1156.3 2730.3 1157.1C2732.3 1158.0 2734.4 1159.1 2736.4 1160.2C2738.5 1161.3 2740.5 1162.9 2742.6 1163.9C2744.6 1164.9 2746.7 1165.8 2748.7 1166.4C2750.8 1166.9 2752.8 1167.0 2754.9 1167.0C2756.9 1166.9 2759.0 1166.5 2761.0 1165.9C2763.1 1165.4 2765.1 1164.6 2767.2 1163.9C2769.2 1163.2 2771.3 1162.4 2773.3 1161.8C2775.4 1161.3 2777.1 1161.0 2779.5 1160.8C2781.8 1160.6 2784.9 1160.6 2787.7 1160.6C2790.4 1160.6 2793.1 1160.7 2795.9 1160.6C2798.7 1160.5 2802.4 1160.3 2804.5 1160.2C2806.5 1160.1 2807.5 1160.2 2808.2 1160.2" stroke="#37AD6B"/>
</g>
<rect x="1562.5" y="780.5" width="1245.0" height="666.0" fill="none" stroke="#000" stroke-width="7"/>
<line x1="1530.0" y1="780.5" x2="1562.5" y2="780.5" stroke="#000" stroke-width="7"/>
<path d="M763 0H583V1147Q518 1085 412.5 1023T223 930V1104Q374 1175 487 1276T647 1472H763Z" transform="translate(1436.31 799.30) scale(0.03125 -0.03125)" fill="#000"/>
<text x="1507.5" y="799.3" text-anchor="end" font-size="64">0</text>
<line x1="1530.0" y1="970.8" x2="1562.5" y2="970.8" stroke="#000" stroke-width="7"/>
<text x="1507.5" y="989.6" text-anchor="end" font-size="64">5</text>
<line x1="1530.0" y1="1161.1" x2="1562.5" y2="1161.1" stroke="#000" stroke-width="7"/>
<text x="1507.5" y="1179.9" text-anchor="end" font-size="64">0</text>
<line x1="1530.0" y1="1351.4" x2="1562.5" y2="1351.4" stroke="#000" stroke-width="7"/>
<text x="1507.5" y="1370.2" text-anchor="end" font-size="64">-5</text>
<line x1="1543.0" y1="875.6" x2="1562.5" y2="875.6" stroke="#000" stroke-width="7"/>
<line x1="1543.0" y1="1065.9" x2="1562.5" y2="1065.9" stroke="#000" stroke-width="7"/>
<line x1="1543.0" y1="1256.2" x2="1562.5" y2="1256.2" stroke="#000" stroke-width="7"/>
<line x1="1543.0" y1="1446.5" x2="1562.5" y2="1446.5" stroke="#000" stroke-width="7"/>
<line x1="1562.5" y1="1446.5" x2="1562.5" y2="1478.0" stroke="#000" stroke-width="7"/>
<path d="M763 0H583V1147Q518 1085 412.5 1023T223 930V1104Q374 1175 487 1276T647 1472H763Z" transform="translate(1543.70 1548.00) scale(0.03125 -0.03125)" fill="#000"/>
<line x1="1700.8" y1="1446.5" x2="1700.8" y2="1478.0" stroke="#000" stroke-width="7"/>
<text x="1699.8" y="1548.0" text-anchor="middle" font-size="64">2</text>
<line x1="1839.2" y1="1446.5" x2="1839.2" y2="1478.0" stroke="#000" stroke-width="7"/>
<text x="1838.2" y="1548.0" text-anchor="middle" font-size="64">3</text>
<line x1="1977.5" y1="1446.5" x2="1977.5" y2="1478.0" stroke="#000" stroke-width="7"/>
<text x="1976.5" y="1548.0" text-anchor="middle" font-size="64">4</text>
<line x1="2115.8" y1="1446.5" x2="2115.8" y2="1478.0" stroke="#000" stroke-width="7"/>
<text x="2114.8" y="1548.0" text-anchor="middle" font-size="64">5</text>
<line x1="2254.2" y1="1446.5" x2="2254.2" y2="1478.0" stroke="#000" stroke-width="7"/>
<text x="2253.2" y="1548.0" text-anchor="middle" font-size="64">6</text>
<line x1="2392.5" y1="1446.5" x2="2392.5" y2="1478.0" stroke="#000" stroke-width="7"/>
<text x="2391.5" y="1548.0" text-anchor="middle" font-size="64">7</text>
<line x1="2530.8" y1="1446.5" x2="2530.8" y2="1478.0" stroke="#000" stroke-width="7"/>
<text x="2529.8" y="1548.0" text-anchor="middle" font-size="64">8</text>
<line x1="2669.2" y1="1446.5" x2="2669.2" y2="1478.0" stroke="#000" stroke-width="7"/>
<text x="2668.2" y="1548.0" text-anchor="middle" font-size="64">9</text>
<line x1="2807.5" y1="1446.5" x2="2807.5" y2="1478.0" stroke="#000" stroke-width="7"/>
<path d="M763 0H583V1147Q518 1085 412.5 1023T223 930V1104Q374 1175 487 1276T647 1472H763Z" transform="translate(2770.90 1548.00) scale(0.03125 -0.03125)" fill="#000"/>
<text x="2806.5" y="1548" font-size="64">0</text>
<line x1="1631.7" y1="1446.5" x2="1631.7" y2="1466.0" stroke="#000" stroke-width="7"/>
<line x1="1770.0" y1="1446.5" x2="1770.0" y2="1466.0" stroke="#000" stroke-width="7"/>
<line x1="1908.3" y1="1446.5" x2="1908.3" y2="1466.0" stroke="#000" stroke-width="7"/>
<line x1="2046.7" y1="1446.5" x2="2046.7" y2="1466.0" stroke="#000" stroke-width="7"/>
<line x1="2185.0" y1="1446.5" x2="2185.0" y2="1466.0" stroke="#000" stroke-width="7"/>
<line x1="2323.3" y1="1446.5" x2="2323.3" y2="1466.0" stroke="#000" stroke-width="7"/>
<line x1="2461.7" y1="1446.5" x2="2461.7" y2="1466.0" stroke="#000" stroke-width="7"/>
<line x1="2600.0" y1="1446.5" x2="2600.0" y2="1466.0" stroke="#000" stroke-width="7"/>
<line x1="2738.3" y1="1446.5" x2="2738.3" y2="1466.0" stroke="#000" stroke-width="7"/>
<text transform="translate(1405 1112.5) rotate(-90)" text-anchor="middle" font-size="74.5">G(r) [Å<tspan font-size="51" dy="-30">-2</tspan><tspan dy="30">]</tspan></text>
<line x1="2403.5" y1="839.5" x2="2542.5" y2="839.5" stroke="#515151" stroke-width="7" stroke-linecap="round"/>
<path d="M763 0H583V1147Q518 1085 412.5 1023T223 930V1104Q374 1175 487 1276T647 1472H763Z" transform="translate(2560.50 860.30) scale(0.03076 -0.03076)" fill="#000"/>
<text x="2595.5" y="860.3" font-size="63">50°C</text>
<line x1="2403.5" y1="923.5" x2="2542.5" y2="923.5" stroke="#F14040" stroke-width="7" stroke-linecap="round"/>
<text x="2559.5" y="944.3" font-size="63">200°C</text>
<line x1="2403.5" y1="1007.5" x2="2542.5" y2="1007.5" stroke="#1A6FDF" stroke-width="7" stroke-linecap="round"/>
<text x="2559.5" y="1028.3" font-size="63">266°C</text>
<line x1="2403.5" y1="1091.5" x2="2542.5" y2="1091.5" stroke="#37AD6B" stroke-width="7" stroke-linecap="round"/>
<text x="2559.5" y="1112.3" font-size="63">332°C</text>
<text x="2185" y="1666" text-anchor="middle" font-size="74.5">r [Å]</text>
</svg></body></html>
